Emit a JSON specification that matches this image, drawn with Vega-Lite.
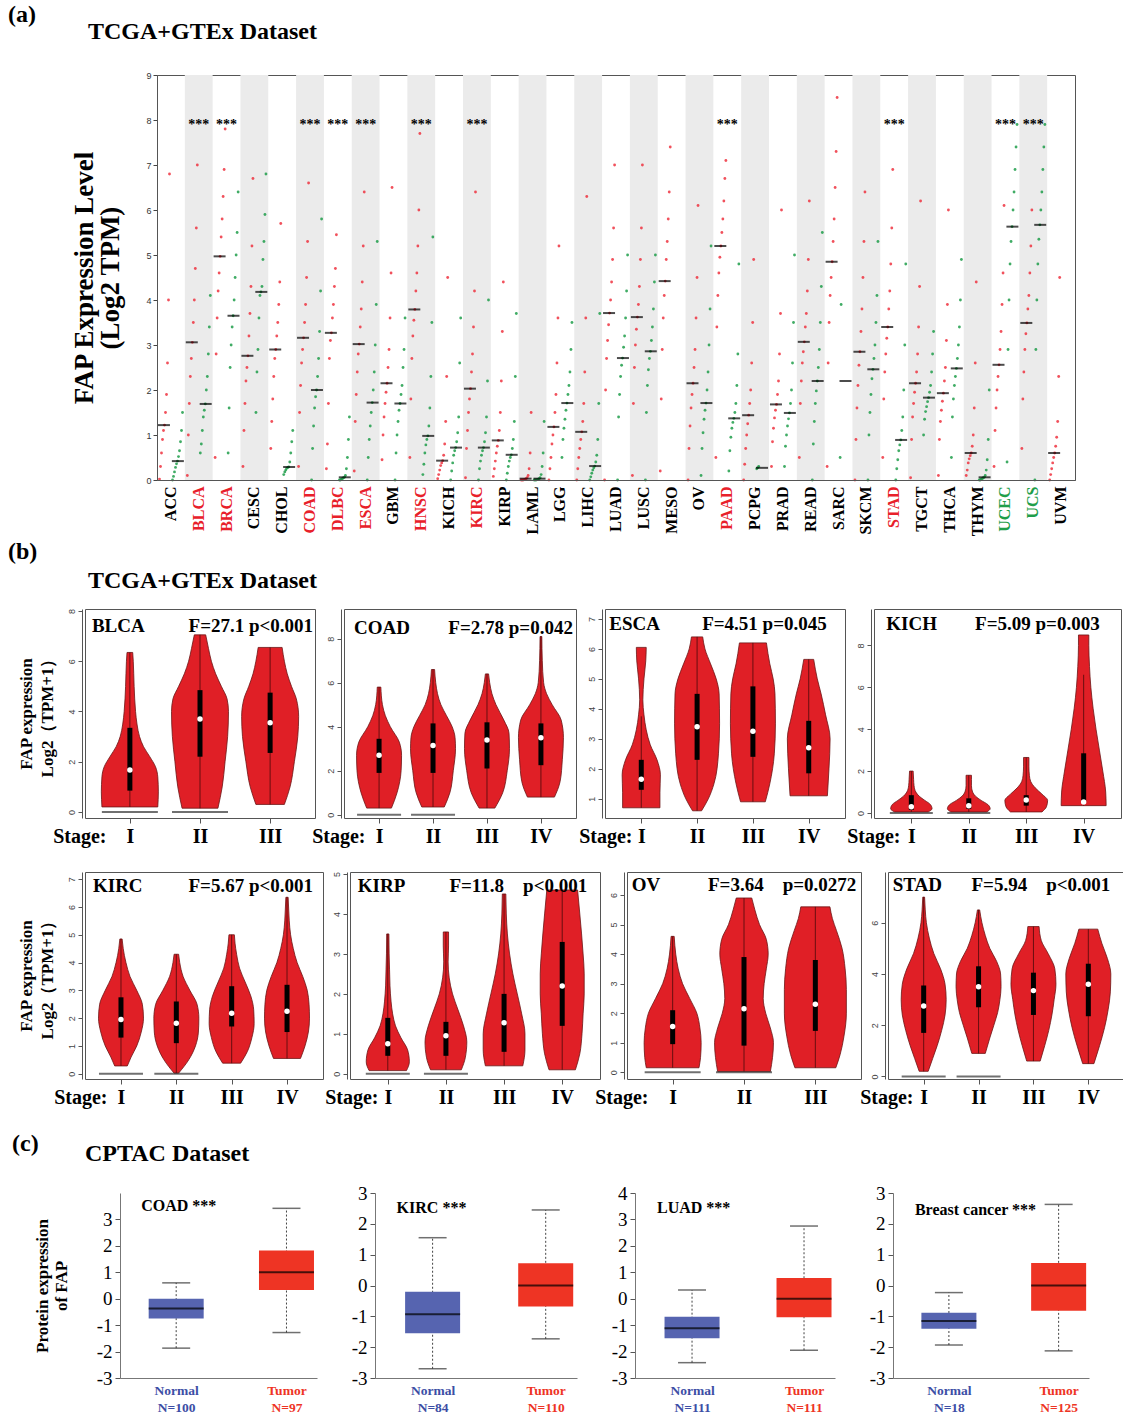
{
"$schema":"https://vega.github.io/schema/vega-lite/v6.json",
"padding":{"left":8,"top":2,"right":0,"bottom":0},
"background":"white",
"spacing":3,
"config":{"view":{"stroke":"#555","strokeWidth":1},"font":"Liberation Serif","title":{"font":"Liberation Serif","fontSize":24,"fontWeight":"bold","anchor":"start","frame":"group","color":"black"},"axis":{"grid":false}},
"datasets":{
"cats":[{"c":"ACC"},{"c":"BLCA"},{"c":"BRCA"},{"c":"CESC"},{"c":"CHOL"},{"c":"COAD"},{"c":"DLBC"},{"c":"ESCA"},{"c":"GBM"},{"c":"HNSC"},{"c":"KICH"},{"c":"KIRC"},{"c":"KIRP"},{"c":"LAML"},{"c":"LGG"},{"c":"LIHC"},{"c":"LUAD"},{"c":"LUSC"},{"c":"MESO"},{"c":"OV"},{"c":"PAAD"},{"c":"PCPG"},{"c":"PRAD"},{"c":"READ"},{"c":"SARC"},{"c":"SKCM"},{"c":"STAD"},{"c":"TGCT"},{"c":"THCA"},{"c":"THYM"},{"c":"UCEC"},{"c":"UCS"},{"c":"UVM"}],
"stars":[{"c":"BLCA"},{"c":"BRCA"},{"c":"COAD"},{"c":"DLBC"},{"c":"ESCA"},{"c":"HNSC"},{"c":"KIRC"},{"c":"PAAD"},{"c":"STAD"},{"c":"UCEC"},{"c":"UCS"}],
"pts":[
{"c":"ACC","g":"T","v":0.02},{"c":"ACC","g":"T","v":0.3},{"c":"ACC","g":"T","v":0.6},{"c":"ACC","g":"T","v":0.9},{"c":"ACC","g":"T","v":1.1},{"c":"ACC","g":"T","v":1.22},{"c":"ACC","g":"T","v":1.5},{"c":"ACC","g":"T","v":1.9},{"c":"ACC","g":"T","v":2.6},{"c":"ACC","g":"T","v":4.0},{"c":"ACC","g":"T","v":6.8},
{"c":"ACC","g":"N","v":0},{"c":"ACC","g":"N","v":0.08},{"c":"ACC","g":"N","v":0.18},{"c":"ACC","g":"N","v":0.28},{"c":"ACC","g":"N","v":0.36},{"c":"ACC","g":"N","v":0.42},{"c":"ACC","g":"N","v":0.52},{"c":"ACC","g":"N","v":0.65},{"c":"ACC","g":"N","v":0.85},{"c":"ACC","g":"N","v":1.1},{"c":"ACC","g":"N","v":1.5},
{"c":"BLCA","g":"T","v":0.1},{"c":"BLCA","g":"T","v":1.0},{"c":"BLCA","g":"T","v":1.7},{"c":"BLCA","g":"T","v":2.3},{"c":"BLCA","g":"T","v":2.7},{"c":"BLCA","g":"T","v":3.06},{"c":"BLCA","g":"T","v":3.5},{"c":"BLCA","g":"T","v":4.0},{"c":"BLCA","g":"T","v":4.7},{"c":"BLCA","g":"T","v":5.6},{"c":"BLCA","g":"T","v":7.0},
{"c":"BLCA","g":"N","v":0.6},{"c":"BLCA","g":"N","v":0.8},{"c":"BLCA","g":"N","v":1.1},{"c":"BLCA","g":"N","v":1.4},{"c":"BLCA","g":"N","v":1.55},{"c":"BLCA","g":"N","v":1.69},{"c":"BLCA","g":"N","v":2.0},{"c":"BLCA","g":"N","v":2.3},{"c":"BLCA","g":"N","v":2.8},{"c":"BLCA","g":"N","v":3.4},{"c":"BLCA","g":"N","v":4.1},
{"c":"BRCA","g":"T","v":0.5},{"c":"BRCA","g":"T","v":2.8},{"c":"BRCA","g":"T","v":3.6},{"c":"BRCA","g":"T","v":4.2},{"c":"BRCA","g":"T","v":4.6},{"c":"BRCA","g":"T","v":4.97},{"c":"BRCA","g":"T","v":5.4},{"c":"BRCA","g":"T","v":5.8},{"c":"BRCA","g":"T","v":6.3},{"c":"BRCA","g":"T","v":6.9},{"c":"BRCA","g":"T","v":7.8},
{"c":"BRCA","g":"N","v":0.6},{"c":"BRCA","g":"N","v":1.6},{"c":"BRCA","g":"N","v":2.5},{"c":"BRCA","g":"N","v":3.0},{"c":"BRCA","g":"N","v":3.4},{"c":"BRCA","g":"N","v":3.65},{"c":"BRCA","g":"N","v":4.0},{"c":"BRCA","g":"N","v":4.5},{"c":"BRCA","g":"N","v":5.0},{"c":"BRCA","g":"N","v":5.5},{"c":"BRCA","g":"N","v":6.4},
{"c":"CESC","g":"T","v":0.3},{"c":"CESC","g":"T","v":1.1},{"c":"CESC","g":"T","v":1.7},{"c":"CESC","g":"T","v":2.2},{"c":"CESC","g":"T","v":2.5},{"c":"CESC","g":"T","v":2.76},{"c":"CESC","g":"T","v":3.2},{"c":"CESC","g":"T","v":3.7},{"c":"CESC","g":"T","v":4.3},{"c":"CESC","g":"T","v":5.2},{"c":"CESC","g":"T","v":6.7},
{"c":"CESC","g":"N","v":1.5},{"c":"CESC","g":"N","v":2.4},{"c":"CESC","g":"N","v":2.9},{"c":"CESC","g":"N","v":3.6},{"c":"CESC","g":"N","v":4.1},{"c":"CESC","g":"N","v":4.18},{"c":"CESC","g":"N","v":4.3},{"c":"CESC","g":"N","v":4.9},{"c":"CESC","g":"N","v":5.3},{"c":"CESC","g":"N","v":5.9},{"c":"CESC","g":"N","v":6.8},
{"c":"CHOL","g":"T","v":0.7},{"c":"CHOL","g":"T","v":1.3},{"c":"CHOL","g":"T","v":1.8},{"c":"CHOL","g":"T","v":2.3},{"c":"CHOL","g":"T","v":2.7},{"c":"CHOL","g":"T","v":2.9},{"c":"CHOL","g":"T","v":3.2},{"c":"CHOL","g":"T","v":3.5},{"c":"CHOL","g":"T","v":3.9},{"c":"CHOL","g":"T","v":4.4},{"c":"CHOL","g":"T","v":5.7},
{"c":"CHOL","g":"N","v":0.12},{"c":"CHOL","g":"N","v":0.18},{"c":"CHOL","g":"N","v":0.22},{"c":"CHOL","g":"N","v":0.26},{"c":"CHOL","g":"N","v":0.28},{"c":"CHOL","g":"N","v":0.29},{"c":"CHOL","g":"N","v":0.4},{"c":"CHOL","g":"N","v":0.6},{"c":"CHOL","g":"N","v":0.85},{"c":"CHOL","g":"N","v":1.1},
{"c":"COAD","g":"T","v":0.3},{"c":"COAD","g":"T","v":1.5},{"c":"COAD","g":"T","v":2.1},{"c":"COAD","g":"T","v":2.6},{"c":"COAD","g":"T","v":2.9},{"c":"COAD","g":"T","v":3.16},{"c":"COAD","g":"T","v":3.5},{"c":"COAD","g":"T","v":3.9},{"c":"COAD","g":"T","v":4.5},{"c":"COAD","g":"T","v":5.3},{"c":"COAD","g":"T","v":6.6},
{"c":"COAD","g":"N","v":0},{"c":"COAD","g":"N","v":0.7},{"c":"COAD","g":"N","v":1.2},{"c":"COAD","g":"N","v":1.6},{"c":"COAD","g":"N","v":1.85},{"c":"COAD","g":"N","v":2.0},{"c":"COAD","g":"N","v":2.3},{"c":"COAD","g":"N","v":2.7},{"c":"COAD","g":"N","v":3.3},{"c":"COAD","g":"N","v":4.2},{"c":"COAD","g":"N","v":5.8},
{"c":"DLBC","g":"T","v":0.25},{"c":"DLBC","g":"T","v":0.8},{"c":"DLBC","g":"T","v":1.7},{"c":"DLBC","g":"T","v":2.7},{"c":"DLBC","g":"T","v":3.1},{"c":"DLBC","g":"T","v":3.27},{"c":"DLBC","g":"T","v":3.6},{"c":"DLBC","g":"T","v":3.9},{"c":"DLBC","g":"T","v":4.3},{"c":"DLBC","g":"T","v":4.7},{"c":"DLBC","g":"T","v":5.45},
{"c":"DLBC","g":"N","v":0},{"c":"DLBC","g":"N","v":0},{"c":"DLBC","g":"N","v":0.02},{"c":"DLBC","g":"N","v":0.03},{"c":"DLBC","g":"N","v":0.05},{"c":"DLBC","g":"N","v":0.06},{"c":"DLBC","g":"N","v":0.1},{"c":"DLBC","g":"N","v":0.25},{"c":"DLBC","g":"N","v":0.5},{"c":"DLBC","g":"N","v":0.9},{"c":"DLBC","g":"N","v":1.4},
{"c":"ESCA","g":"T","v":0.2},{"c":"ESCA","g":"T","v":1.3},{"c":"ESCA","g":"T","v":1.9},{"c":"ESCA","g":"T","v":2.4},{"c":"ESCA","g":"T","v":2.8},{"c":"ESCA","g":"T","v":3.02},{"c":"ESCA","g":"T","v":3.4},{"c":"ESCA","g":"T","v":3.8},{"c":"ESCA","g":"T","v":4.4},{"c":"ESCA","g":"T","v":5.2},{"c":"ESCA","g":"T","v":6.4},
{"c":"ESCA","g":"N","v":0},{"c":"ESCA","g":"N","v":0.5},{"c":"ESCA","g":"N","v":0.9},{"c":"ESCA","g":"N","v":1.2},{"c":"ESCA","g":"N","v":1.5},{"c":"ESCA","g":"N","v":1.72},{"c":"ESCA","g":"N","v":2.0},{"c":"ESCA","g":"N","v":2.4},{"c":"ESCA","g":"N","v":3.0},{"c":"ESCA","g":"N","v":3.9},{"c":"ESCA","g":"N","v":5.3},
{"c":"GBM","g":"T","v":0.45},{"c":"GBM","g":"T","v":1.0},{"c":"GBM","g":"T","v":1.4},{"c":"GBM","g":"T","v":1.7},{"c":"GBM","g":"T","v":1.95},{"c":"GBM","g":"T","v":2.15},{"c":"GBM","g":"T","v":2.5},{"c":"GBM","g":"T","v":2.9},{"c":"GBM","g":"T","v":3.6},{"c":"GBM","g":"T","v":4.6},{"c":"GBM","g":"T","v":6.5},
{"c":"GBM","g":"N","v":0},{"c":"GBM","g":"N","v":0.6},{"c":"GBM","g":"N","v":1.0},{"c":"GBM","g":"N","v":1.3},{"c":"GBM","g":"N","v":1.55},{"c":"GBM","g":"N","v":1.7},{"c":"GBM","g":"N","v":1.9},{"c":"GBM","g":"N","v":2.1},{"c":"GBM","g":"N","v":2.5},{"c":"GBM","g":"N","v":2.9},{"c":"GBM","g":"N","v":3.6},
{"c":"HNSC","g":"T","v":0.5},{"c":"HNSC","g":"T","v":1.8},{"c":"HNSC","g":"T","v":2.7},{"c":"HNSC","g":"T","v":3.2},{"c":"HNSC","g":"T","v":3.55},{"c":"HNSC","g":"T","v":3.79},{"c":"HNSC","g":"T","v":4.2},{"c":"HNSC","g":"T","v":4.6},{"c":"HNSC","g":"T","v":5.2},{"c":"HNSC","g":"T","v":6.0},{"c":"HNSC","g":"T","v":7.7},
{"c":"HNSC","g":"N","v":0.12},{"c":"HNSC","g":"N","v":0.35},{"c":"HNSC","g":"N","v":0.6},{"c":"HNSC","g":"N","v":0.78},{"c":"HNSC","g":"N","v":0.9},{"c":"HNSC","g":"N","v":0.98},{"c":"HNSC","g":"N","v":1.2},{"c":"HNSC","g":"N","v":1.6},{"c":"HNSC","g":"N","v":2.3},{"c":"HNSC","g":"N","v":3.5},{"c":"HNSC","g":"N","v":5.4},
{"c":"KICH","g":"T","v":0.03},{"c":"KICH","g":"T","v":0.12},{"c":"KICH","g":"T","v":0.22},{"c":"KICH","g":"T","v":0.32},{"c":"KICH","g":"T","v":0.38},{"c":"KICH","g":"T","v":0.43},{"c":"KICH","g":"T","v":0.55},{"c":"KICH","g":"T","v":0.8},{"c":"KICH","g":"T","v":1.3},{"c":"KICH","g":"T","v":2.3},{"c":"KICH","g":"T","v":4.5},
{"c":"KICH","g":"N","v":0},{"c":"KICH","g":"N","v":0.2},{"c":"KICH","g":"N","v":0.38},{"c":"KICH","g":"N","v":0.55},{"c":"KICH","g":"N","v":0.65},{"c":"KICH","g":"N","v":0.72},{"c":"KICH","g":"N","v":0.85},{"c":"KICH","g":"N","v":1.05},{"c":"KICH","g":"N","v":1.4},{"c":"KICH","g":"N","v":2.6},{"c":"KICH","g":"N","v":3.6},
{"c":"KIRC","g":"T","v":0.05},{"c":"KIRC","g":"T","v":0.7},{"c":"KIRC","g":"T","v":1.1},{"c":"KIRC","g":"T","v":1.5},{"c":"KIRC","g":"T","v":1.8},{"c":"KIRC","g":"T","v":2.03},{"c":"KIRC","g":"T","v":2.4},{"c":"KIRC","g":"T","v":2.8},{"c":"KIRC","g":"T","v":3.4},{"c":"KIRC","g":"T","v":4.2},{"c":"KIRC","g":"T","v":6.4},
{"c":"KIRC","g":"N","v":0},{"c":"KIRC","g":"N","v":0.25},{"c":"KIRC","g":"N","v":0.42},{"c":"KIRC","g":"N","v":0.55},{"c":"KIRC","g":"N","v":0.65},{"c":"KIRC","g":"N","v":0.72},{"c":"KIRC","g":"N","v":0.85},{"c":"KIRC","g":"N","v":1.05},{"c":"KIRC","g":"N","v":1.4},{"c":"KIRC","g":"N","v":2.2},{"c":"KIRC","g":"N","v":4.0},
{"c":"KIRP","g":"T","v":0.08},{"c":"KIRP","g":"T","v":0.25},{"c":"KIRP","g":"T","v":0.42},{"c":"KIRP","g":"T","v":0.6},{"c":"KIRP","g":"T","v":0.75},{"c":"KIRP","g":"T","v":0.88},{"c":"KIRP","g":"T","v":1.1},{"c":"KIRP","g":"T","v":1.5},{"c":"KIRP","g":"T","v":2.2},{"c":"KIRP","g":"T","v":3.3},{"c":"KIRP","g":"T","v":4.4},
{"c":"KIRP","g":"N","v":0},{"c":"KIRP","g":"N","v":0.15},{"c":"KIRP","g":"N","v":0.3},{"c":"KIRP","g":"N","v":0.42},{"c":"KIRP","g":"N","v":0.5},{"c":"KIRP","g":"N","v":0.56},{"c":"KIRP","g":"N","v":0.7},{"c":"KIRP","g":"N","v":0.9},{"c":"KIRP","g":"N","v":1.3},{"c":"KIRP","g":"N","v":2.3},{"c":"KIRP","g":"N","v":3.7},
{"c":"LAML","g":"T","v":0},{"c":"LAML","g":"T","v":0},{"c":"LAML","g":"T","v":0},{"c":"LAML","g":"T","v":0.01},{"c":"LAML","g":"T","v":0.02},{"c":"LAML","g":"T","v":0.03},{"c":"LAML","g":"T","v":0.05},{"c":"LAML","g":"T","v":0.1},{"c":"LAML","g":"T","v":0.25},{"c":"LAML","g":"T","v":0.6},{"c":"LAML","g":"T","v":1.5},
{"c":"LAML","g":"N","v":0},{"c":"LAML","g":"N","v":0},{"c":"LAML","g":"N","v":0},{"c":"LAML","g":"N","v":0.01},{"c":"LAML","g":"N","v":0.02},{"c":"LAML","g":"N","v":0.03},{"c":"LAML","g":"N","v":0.05},{"c":"LAML","g":"N","v":0.12},{"c":"LAML","g":"N","v":0.3},{"c":"LAML","g":"N","v":0.6},{"c":"LAML","g":"N","v":1.3},
{"c":"LGG","g":"T","v":0},{"c":"LGG","g":"T","v":0.25},{"c":"LGG","g":"T","v":0.5},{"c":"LGG","g":"T","v":0.8},{"c":"LGG","g":"T","v":1.0},{"c":"LGG","g":"T","v":1.18},{"c":"LGG","g":"T","v":1.5},{"c":"LGG","g":"T","v":1.9},{"c":"LGG","g":"T","v":2.6},{"c":"LGG","g":"T","v":3.6},{"c":"LGG","g":"T","v":5.2},
{"c":"LGG","g":"N","v":0.5},{"c":"LGG","g":"N","v":0.9},{"c":"LGG","g":"N","v":1.15},{"c":"LGG","g":"N","v":1.35},{"c":"LGG","g":"N","v":1.55},{"c":"LGG","g":"N","v":1.71},{"c":"LGG","g":"N","v":1.9},{"c":"LGG","g":"N","v":2.1},{"c":"LGG","g":"N","v":2.4},{"c":"LGG","g":"N","v":2.9},{"c":"LGG","g":"N","v":3.5},
{"c":"LIHC","g":"T","v":0},{"c":"LIHC","g":"T","v":0.25},{"c":"LIHC","g":"T","v":0.5},{"c":"LIHC","g":"T","v":0.7},{"c":"LIHC","g":"T","v":0.9},{"c":"LIHC","g":"T","v":1.07},{"c":"LIHC","g":"T","v":1.3},{"c":"LIHC","g":"T","v":1.7},{"c":"LIHC","g":"T","v":2.4},{"c":"LIHC","g":"T","v":3.6},{"c":"LIHC","g":"T","v":6.3},
{"c":"LIHC","g":"N","v":0},{"c":"LIHC","g":"N","v":0.07},{"c":"LIHC","g":"N","v":0.15},{"c":"LIHC","g":"N","v":0.22},{"c":"LIHC","g":"N","v":0.27},{"c":"LIHC","g":"N","v":0.31},{"c":"LIHC","g":"N","v":0.4},{"c":"LIHC","g":"N","v":0.55},{"c":"LIHC","g":"N","v":0.9},{"c":"LIHC","g":"N","v":1.7},{"c":"LIHC","g":"N","v":3.7},
{"c":"LUAD","g":"T","v":0},{"c":"LUAD","g":"T","v":2.0},{"c":"LUAD","g":"T","v":2.7},{"c":"LUAD","g":"T","v":3.1},{"c":"LUAD","g":"T","v":3.45},{"c":"LUAD","g":"T","v":3.71},{"c":"LUAD","g":"T","v":4.0},{"c":"LUAD","g":"T","v":4.4},{"c":"LUAD","g":"T","v":4.9},{"c":"LUAD","g":"T","v":5.6},{"c":"LUAD","g":"T","v":7.0},
{"c":"LUAD","g":"N","v":0},{"c":"LUAD","g":"N","v":1.4},{"c":"LUAD","g":"N","v":1.9},{"c":"LUAD","g":"N","v":2.3},{"c":"LUAD","g":"N","v":2.55},{"c":"LUAD","g":"N","v":2.71},{"c":"LUAD","g":"N","v":2.95},{"c":"LUAD","g":"N","v":3.2},{"c":"LUAD","g":"N","v":3.6},{"c":"LUAD","g":"N","v":4.2},{"c":"LUAD","g":"N","v":5.0},
{"c":"LUSC","g":"T","v":0.1},{"c":"LUSC","g":"T","v":1.7},{"c":"LUSC","g":"T","v":2.5},{"c":"LUSC","g":"T","v":3.0},{"c":"LUSC","g":"T","v":3.35},{"c":"LUSC","g":"T","v":3.62},{"c":"LUSC","g":"T","v":3.9},{"c":"LUSC","g":"T","v":4.3},{"c":"LUSC","g":"T","v":4.9},{"c":"LUSC","g":"T","v":5.6},{"c":"LUSC","g":"T","v":7.0},
{"c":"LUSC","g":"N","v":0},{"c":"LUSC","g":"N","v":1.5},{"c":"LUSC","g":"N","v":2.1},{"c":"LUSC","g":"N","v":2.45},{"c":"LUSC","g":"N","v":2.7},{"c":"LUSC","g":"N","v":2.86},{"c":"LUSC","g":"N","v":3.1},{"c":"LUSC","g":"N","v":3.4},{"c":"LUSC","g":"N","v":3.8},{"c":"LUSC","g":"N","v":4.4},{"c":"LUSC","g":"N","v":5.0},
{"c":"MESO","g":"T","v":0.2},{"c":"MESO","g":"T","v":1.8},{"c":"MESO","g":"T","v":2.9},{"c":"MESO","g":"T","v":3.6},{"c":"MESO","g":"T","v":4.1},{"c":"MESO","g":"T","v":4.42},{"c":"MESO","g":"T","v":4.9},{"c":"MESO","g":"T","v":5.3},{"c":"MESO","g":"T","v":5.8},{"c":"MESO","g":"T","v":6.4},{"c":"MESO","g":"T","v":7.4},
{"c":"OV","g":"T","v":0},{"c":"OV","g":"T","v":0.7},{"c":"OV","g":"T","v":1.2},{"c":"OV","g":"T","v":1.6},{"c":"OV","g":"T","v":1.9},{"c":"OV","g":"T","v":2.15},{"c":"OV","g":"T","v":2.5},{"c":"OV","g":"T","v":2.9},{"c":"OV","g":"T","v":3.6},{"c":"OV","g":"T","v":4.5},{"c":"OV","g":"T","v":6.1},
{"c":"OV","g":"N","v":0.1},{"c":"OV","g":"N","v":0.7},{"c":"OV","g":"N","v":1.05},{"c":"OV","g":"N","v":1.35},{"c":"OV","g":"N","v":1.55},{"c":"OV","g":"N","v":1.71},{"c":"OV","g":"N","v":2.0},{"c":"OV","g":"N","v":2.4},{"c":"OV","g":"N","v":3.0},{"c":"OV","g":"N","v":3.8},{"c":"OV","g":"N","v":5.2},
{"c":"PAAD","g":"T","v":0.5},{"c":"PAAD","g":"T","v":3.4},{"c":"PAAD","g":"T","v":4.1},{"c":"PAAD","g":"T","v":4.6},{"c":"PAAD","g":"T","v":4.95},{"c":"PAAD","g":"T","v":5.2},{"c":"PAAD","g":"T","v":5.5},{"c":"PAAD","g":"T","v":5.8},{"c":"PAAD","g":"T","v":6.2},{"c":"PAAD","g":"T","v":6.7},{"c":"PAAD","g":"T","v":7.1},
{"c":"PAAD","g":"N","v":0.2},{"c":"PAAD","g":"N","v":0.65},{"c":"PAAD","g":"N","v":0.95},{"c":"PAAD","g":"N","v":1.15},{"c":"PAAD","g":"N","v":1.28},{"c":"PAAD","g":"N","v":1.37},{"c":"PAAD","g":"N","v":1.5},{"c":"PAAD","g":"N","v":1.7},{"c":"PAAD","g":"N","v":2.1},{"c":"PAAD","g":"N","v":2.8},{"c":"PAAD","g":"N","v":4.8},
{"c":"PCPG","g":"T","v":0},{"c":"PCPG","g":"T","v":0.35},{"c":"PCPG","g":"T","v":0.7},{"c":"PCPG","g":"T","v":1.0},{"c":"PCPG","g":"T","v":1.25},{"c":"PCPG","g":"T","v":1.44},{"c":"PCPG","g":"T","v":1.7},{"c":"PCPG","g":"T","v":2.0},{"c":"PCPG","g":"T","v":2.6},{"c":"PCPG","g":"T","v":3.5},{"c":"PCPG","g":"T","v":4.9},
{"c":"PCPG","g":"N","v":0.25},{"c":"PCPG","g":"N","v":0.27},{"c":"PCPG","g":"N","v":0.3},
{"c":"PRAD","g":"T","v":0.3},{"c":"PRAD","g":"T","v":0.85},{"c":"PRAD","g":"T","v":1.15},{"c":"PRAD","g":"T","v":1.38},{"c":"PRAD","g":"T","v":1.55},{"c":"PRAD","g":"T","v":1.68},{"c":"PRAD","g":"T","v":1.9},{"c":"PRAD","g":"T","v":2.2},{"c":"PRAD","g":"T","v":2.8},{"c":"PRAD","g":"T","v":3.7},{"c":"PRAD","g":"T","v":6.0},
{"c":"PRAD","g":"N","v":0.3},{"c":"PRAD","g":"N","v":0.75},{"c":"PRAD","g":"N","v":1.0},{"c":"PRAD","g":"N","v":1.2},{"c":"PRAD","g":"N","v":1.36},{"c":"PRAD","g":"N","v":1.49},{"c":"PRAD","g":"N","v":1.7},{"c":"PRAD","g":"N","v":2.0},{"c":"PRAD","g":"N","v":2.6},{"c":"PRAD","g":"N","v":3.5},{"c":"PRAD","g":"N","v":5.0},
{"c":"READ","g":"T","v":0.5},{"c":"READ","g":"T","v":1.7},{"c":"READ","g":"T","v":2.2},{"c":"READ","g":"T","v":2.6},{"c":"READ","g":"T","v":2.85},{"c":"READ","g":"T","v":3.07},{"c":"READ","g":"T","v":3.4},{"c":"READ","g":"T","v":3.7},{"c":"READ","g":"T","v":4.2},{"c":"READ","g":"T","v":4.9},{"c":"READ","g":"T","v":6.2},
{"c":"READ","g":"N","v":0},{"c":"READ","g":"N","v":0.8},{"c":"READ","g":"N","v":1.3},{"c":"READ","g":"N","v":1.7},{"c":"READ","g":"N","v":1.98},{"c":"READ","g":"N","v":2.2},{"c":"READ","g":"N","v":2.5},{"c":"READ","g":"N","v":2.9},{"c":"READ","g":"N","v":3.5},{"c":"READ","g":"N","v":4.3},{"c":"READ","g":"N","v":5.5},
{"c":"SARC","g":"T","v":0.3},{"c":"SARC","g":"T","v":2.6},{"c":"SARC","g":"T","v":3.5},{"c":"SARC","g":"T","v":4.1},{"c":"SARC","g":"T","v":4.5},{"c":"SARC","g":"T","v":4.85},{"c":"SARC","g":"T","v":5.3},{"c":"SARC","g":"T","v":5.8},{"c":"SARC","g":"T","v":6.5},{"c":"SARC","g":"T","v":7.3},{"c":"SARC","g":"T","v":8.5},
{"c":"SARC","g":"N","v":0.5},{"c":"SARC","g":"N","v":3.9},
{"c":"SKCM","g":"T","v":0},{"c":"SKCM","g":"T","v":0.9},{"c":"SKCM","g":"T","v":1.6},{"c":"SKCM","g":"T","v":2.1},{"c":"SKCM","g":"T","v":2.55},{"c":"SKCM","g":"T","v":2.85},{"c":"SKCM","g":"T","v":3.3},{"c":"SKCM","g":"T","v":3.8},{"c":"SKCM","g":"T","v":4.5},{"c":"SKCM","g":"T","v":5.3},{"c":"SKCM","g":"T","v":6.4},
{"c":"SKCM","g":"N","v":0},{"c":"SKCM","g":"N","v":1.0},{"c":"SKCM","g":"N","v":1.5},{"c":"SKCM","g":"N","v":1.9},{"c":"SKCM","g":"N","v":2.25},{"c":"SKCM","g":"N","v":2.46},{"c":"SKCM","g":"N","v":2.7},{"c":"SKCM","g":"N","v":3.0},{"c":"SKCM","g":"N","v":3.5},{"c":"SKCM","g":"N","v":4.1},{"c":"SKCM","g":"N","v":5.3},
{"c":"STAD","g":"T","v":0.5},{"c":"STAD","g":"T","v":1.8},{"c":"STAD","g":"T","v":2.4},{"c":"STAD","g":"T","v":2.8},{"c":"STAD","g":"T","v":3.15},{"c":"STAD","g":"T","v":3.4},{"c":"STAD","g":"T","v":3.8},{"c":"STAD","g":"T","v":4.2},{"c":"STAD","g":"T","v":4.8},{"c":"STAD","g":"T","v":5.6},{"c":"STAD","g":"T","v":6.9},
{"c":"STAD","g":"N","v":0},{"c":"STAD","g":"N","v":0.25},{"c":"STAD","g":"N","v":0.45},{"c":"STAD","g":"N","v":0.65},{"c":"STAD","g":"N","v":0.78},{"c":"STAD","g":"N","v":0.89},{"c":"STAD","g":"N","v":1.1},{"c":"STAD","g":"N","v":1.4},{"c":"STAD","g":"N","v":2.0},{"c":"STAD","g":"N","v":3.0},{"c":"STAD","g":"N","v":4.8},
{"c":"TGCT","g":"T","v":0.05},{"c":"TGCT","g":"T","v":0.9},{"c":"TGCT","g":"T","v":1.4},{"c":"TGCT","g":"T","v":1.7},{"c":"TGCT","g":"T","v":1.95},{"c":"TGCT","g":"T","v":2.15},{"c":"TGCT","g":"T","v":2.4},{"c":"TGCT","g":"T","v":2.8},{"c":"TGCT","g":"T","v":3.4},{"c":"TGCT","g":"T","v":4.3},{"c":"TGCT","g":"T","v":6.2},
{"c":"TGCT","g":"N","v":1.0},{"c":"TGCT","g":"N","v":1.35},{"c":"TGCT","g":"N","v":1.52},{"c":"TGCT","g":"N","v":1.63},{"c":"TGCT","g":"N","v":1.74},{"c":"TGCT","g":"N","v":1.83},{"c":"TGCT","g":"N","v":1.95},{"c":"TGCT","g":"N","v":2.1},{"c":"TGCT","g":"N","v":2.4},{"c":"TGCT","g":"N","v":2.8},{"c":"TGCT","g":"N","v":3.3},
{"c":"THCA","g":"T","v":0.1},{"c":"THCA","g":"T","v":0.9},{"c":"THCA","g":"T","v":1.3},{"c":"THCA","g":"T","v":1.55},{"c":"THCA","g":"T","v":1.75},{"c":"THCA","g":"T","v":1.93},{"c":"THCA","g":"T","v":2.2},{"c":"THCA","g":"T","v":2.5},{"c":"THCA","g":"T","v":3.1},{"c":"THCA","g":"T","v":3.9},{"c":"THCA","g":"T","v":6.0},
{"c":"THCA","g":"N","v":0.5},{"c":"THCA","g":"N","v":1.4},{"c":"THCA","g":"N","v":1.8},{"c":"THCA","g":"N","v":2.1},{"c":"THCA","g":"N","v":2.3},{"c":"THCA","g":"N","v":2.48},{"c":"THCA","g":"N","v":2.7},{"c":"THCA","g":"N","v":3.0},{"c":"THCA","g":"N","v":3.4},{"c":"THCA","g":"N","v":4.0},{"c":"THCA","g":"N","v":4.9},
{"c":"THYM","g":"T","v":0.1},{"c":"THYM","g":"T","v":0.22},{"c":"THYM","g":"T","v":0.38},{"c":"THYM","g":"T","v":0.47},{"c":"THYM","g":"T","v":0.54},{"c":"THYM","g":"T","v":0.6},{"c":"THYM","g":"T","v":0.75},{"c":"THYM","g":"T","v":1.0},{"c":"THYM","g":"T","v":1.6},{"c":"THYM","g":"T","v":2.6},{"c":"THYM","g":"T","v":4.4},
{"c":"THYM","g":"N","v":0},{"c":"THYM","g":"N","v":0},{"c":"THYM","g":"N","v":0.02},{"c":"THYM","g":"N","v":0.03},{"c":"THYM","g":"N","v":0.05},{"c":"THYM","g":"N","v":0.06},{"c":"THYM","g":"N","v":0.1},{"c":"THYM","g":"N","v":0.22},{"c":"THYM","g":"N","v":0.45},{"c":"THYM","g":"N","v":0.9},{"c":"THYM","g":"N","v":2.0},
{"c":"UCEC","g":"T","v":0.3},{"c":"UCEC","g":"T","v":1.1},{"c":"UCEC","g":"T","v":1.6},{"c":"UCEC","g":"T","v":2.0},{"c":"UCEC","g":"T","v":2.3},{"c":"UCEC","g":"T","v":2.56},{"c":"UCEC","g":"T","v":2.9},{"c":"UCEC","g":"T","v":3.3},{"c":"UCEC","g":"T","v":3.9},{"c":"UCEC","g":"T","v":4.6},{"c":"UCEC","g":"T","v":6.1},
{"c":"UCEC","g":"N","v":0.4},{"c":"UCEC","g":"N","v":2.9},{"c":"UCEC","g":"N","v":4.0},{"c":"UCEC","g":"N","v":4.8},{"c":"UCEC","g":"N","v":5.3},{"c":"UCEC","g":"N","v":5.63},{"c":"UCEC","g":"N","v":6.0},{"c":"UCEC","g":"N","v":6.4},{"c":"UCEC","g":"N","v":6.9},{"c":"UCEC","g":"N","v":7.4},{"c":"UCEC","g":"N","v":7.9},
{"c":"UCS","g":"T","v":0.7},{"c":"UCS","g":"T","v":1.8},{"c":"UCS","g":"T","v":2.4},{"c":"UCS","g":"T","v":2.9},{"c":"UCS","g":"T","v":3.25},{"c":"UCS","g":"T","v":3.49},{"c":"UCS","g":"T","v":3.8},{"c":"UCS","g":"T","v":4.1},{"c":"UCS","g":"T","v":4.6},{"c":"UCS","g":"T","v":5.2},{"c":"UCS","g":"T","v":6.0},
{"c":"UCS","g":"N","v":0},{"c":"UCS","g":"N","v":2.9},{"c":"UCS","g":"N","v":4.0},{"c":"UCS","g":"N","v":4.8},{"c":"UCS","g":"N","v":5.35},{"c":"UCS","g":"N","v":5.67},{"c":"UCS","g":"N","v":6.0},{"c":"UCS","g":"N","v":6.4},{"c":"UCS","g":"N","v":6.9},{"c":"UCS","g":"N","v":7.4},{"c":"UCS","g":"N","v":7.9},
{"c":"UVM","g":"T","v":0},{"c":"UVM","g":"T","v":0.12},{"c":"UVM","g":"T","v":0.25},{"c":"UVM","g":"T","v":0.38},{"c":"UVM","g":"T","v":0.5},{"c":"UVM","g":"T","v":0.6},{"c":"UVM","g":"T","v":0.75},{"c":"UVM","g":"T","v":0.95},{"c":"UVM","g":"T","v":1.3},{"c":"UVM","g":"T","v":2.3},{"c":"UVM","g":"T","v":4.5}
],
"med":[{"c":"ACC","g":"T","m":1.22},{"c":"ACC","g":"N","m":0.42},{"c":"BLCA","g":"T","m":3.06},{"c":"BLCA","g":"N","m":1.69},{"c":"BRCA","g":"T","m":4.97},{"c":"BRCA","g":"N","m":3.65},{"c":"CESC","g":"T","m":2.76},{"c":"CESC","g":"N","m":4.18},{"c":"CHOL","g":"T","m":2.9},{"c":"CHOL","g":"N","m":0.29},{"c":"COAD","g":"T","m":3.16},{"c":"COAD","g":"N","m":2.0},{"c":"DLBC","g":"T","m":3.27},{"c":"DLBC","g":"N","m":0.06},{"c":"ESCA","g":"T","m":3.02},{"c":"ESCA","g":"N","m":1.72},{"c":"GBM","g":"T","m":2.15},{"c":"GBM","g":"N","m":1.7},{"c":"HNSC","g":"T","m":3.79},{"c":"HNSC","g":"N","m":0.98},{"c":"KICH","g":"T","m":0.43},{"c":"KICH","g":"N","m":0.72},{"c":"KIRC","g":"T","m":2.03},{"c":"KIRC","g":"N","m":0.72},{"c":"KIRP","g":"T","m":0.88},{"c":"KIRP","g":"N","m":0.56},{"c":"LAML","g":"T","m":0.03},{"c":"LAML","g":"N","m":0.03},{"c":"LGG","g":"T","m":1.18},{"c":"LGG","g":"N","m":1.71},{"c":"LIHC","g":"T","m":1.07},{"c":"LIHC","g":"N","m":0.31},{"c":"LUAD","g":"T","m":3.71},{"c":"LUAD","g":"N","m":2.71},{"c":"LUSC","g":"T","m":3.62},{"c":"LUSC","g":"N","m":2.86},{"c":"MESO","g":"T","m":4.42},{"c":"OV","g":"T","m":2.15},{"c":"OV","g":"N","m":1.71},{"c":"PAAD","g":"T","m":5.2},{"c":"PAAD","g":"N","m":1.37},{"c":"PCPG","g":"T","m":1.44},{"c":"PCPG","g":"N","m":0.27},{"c":"PRAD","g":"T","m":1.68},{"c":"PRAD","g":"N","m":1.49},{"c":"READ","g":"T","m":3.07},{"c":"READ","g":"N","m":2.2},{"c":"SARC","g":"T","m":4.85},{"c":"SARC","g":"N","m":2.2},{"c":"SKCM","g":"T","m":2.85},{"c":"SKCM","g":"N","m":2.46},{"c":"STAD","g":"T","m":3.4},{"c":"STAD","g":"N","m":0.89},{"c":"TGCT","g":"T","m":2.15},{"c":"TGCT","g":"N","m":1.83},{"c":"THCA","g":"T","m":1.93},{"c":"THCA","g":"N","m":2.48},{"c":"THYM","g":"T","m":0.6},{"c":"THYM","g":"N","m":0.06},{"c":"UCEC","g":"T","m":2.56},{"c":"UCEC","g":"N","m":5.63},{"c":"UCS","g":"T","m":3.49},{"c":"UCS","g":"N","m":5.67},{"c":"UVM","g":"T","m":0.6}],
"vio":[
{"p":"BLCA","s":"I","y":0.2,"w":0.98},{"p":"BLCA","s":"I","y":0.8,"w":1.0},{"p":"BLCA","s":"I","y":1.4,"w":0.98},{"p":"BLCA","s":"I","y":1.8,"w":0.9},{"p":"BLCA","s":"I","y":2.2,"w":0.7},{"p":"BLCA","s":"I","y":2.6,"w":0.48},{"p":"BLCA","s":"I","y":3.0,"w":0.34},{"p":"BLCA","s":"I","y":3.5,"w":0.25},{"p":"BLCA","s":"I","y":4.0,"w":0.2},{"p":"BLCA","s":"I","y":5.0,"w":0.15},{"p":"BLCA","s":"I","y":6.0,"w":0.12},{"p":"BLCA","s":"I","y":6.35,"w":0.1},
{"p":"BLCA","s":"II","y":0.15,"w":0.63},{"p":"BLCA","s":"II","y":1.0,"w":0.78},{"p":"BLCA","s":"II","y":2.0,"w":0.88},{"p":"BLCA","s":"II","y":3.0,"w":0.97},{"p":"BLCA","s":"II","y":4.0,"w":1.0},{"p":"BLCA","s":"II","y":4.5,"w":0.95},{"p":"BLCA","s":"II","y":5.0,"w":0.75},{"p":"BLCA","s":"II","y":5.5,"w":0.55},{"p":"BLCA","s":"II","y":6.0,"w":0.4},{"p":"BLCA","s":"II","y":6.5,"w":0.3},{"p":"BLCA","s":"II","y":7.05,"w":0.2},
{"p":"BLCA","s":"III","y":0.3,"w":0.5},{"p":"BLCA","s":"III","y":1.0,"w":0.7},{"p":"BLCA","s":"III","y":2.0,"w":0.85},{"p":"BLCA","s":"III","y":3.0,"w":0.97},{"p":"BLCA","s":"III","y":3.8,"w":1.0},{"p":"BLCA","s":"III","y":4.5,"w":0.92},{"p":"BLCA","s":"III","y":5.0,"w":0.75},{"p":"BLCA","s":"III","y":5.5,"w":0.6},{"p":"BLCA","s":"III","y":6.0,"w":0.5},{"p":"BLCA","s":"III","y":6.55,"w":0.42},
{"p":"COAD","s":"I","y":0.3,"w":0.55},{"p":"COAD","s":"I","y":1.0,"w":0.8},{"p":"COAD","s":"I","y":2.0,"w":0.98},{"p":"COAD","s":"I","y":2.7,"w":1.0},{"p":"COAD","s":"I","y":3.3,"w":0.9},{"p":"COAD","s":"I","y":4.0,"w":0.5},{"p":"COAD","s":"I","y":4.5,"w":0.28},{"p":"COAD","s":"I","y":5.0,"w":0.15},{"p":"COAD","s":"I","y":5.8,"w":0.08},
{"p":"COAD","s":"II","y":0.35,"w":0.5},{"p":"COAD","s":"II","y":1.0,"w":0.75},{"p":"COAD","s":"II","y":2.0,"w":0.9},{"p":"COAD","s":"II","y":3.0,"w":1.0},{"p":"COAD","s":"II","y":3.5,"w":0.98},{"p":"COAD","s":"II","y":4.0,"w":0.85},{"p":"COAD","s":"II","y":4.5,"w":0.6},{"p":"COAD","s":"II","y":5.0,"w":0.35},{"p":"COAD","s":"II","y":5.5,"w":0.2},{"p":"COAD","s":"II","y":6.0,"w":0.12},{"p":"COAD","s":"II","y":6.6,"w":0.07},
{"p":"COAD","s":"III","y":0.3,"w":0.35},{"p":"COAD","s":"III","y":1.0,"w":0.7},{"p":"COAD","s":"III","y":2.0,"w":0.9},{"p":"COAD","s":"III","y":3.0,"w":1.0},{"p":"COAD","s":"III","y":3.7,"w":0.98},{"p":"COAD","s":"III","y":4.3,"w":0.75},{"p":"COAD","s":"III","y":5.0,"w":0.4},{"p":"COAD","s":"III","y":5.5,"w":0.22},{"p":"COAD","s":"III","y":6.0,"w":0.12},{"p":"COAD","s":"III","y":6.4,"w":0.07},
{"p":"COAD","s":"IV","y":0.8,"w":0.6},{"p":"COAD","s":"IV","y":1.5,"w":0.85},{"p":"COAD","s":"IV","y":2.5,"w":0.95},{"p":"COAD","s":"IV","y":3.5,"w":1.0},{"p":"COAD","s":"IV","y":4.3,"w":0.9},{"p":"COAD","s":"IV","y":5.0,"w":0.5},{"p":"COAD","s":"IV","y":5.5,"w":0.25},{"p":"COAD","s":"IV","y":6.0,"w":0.12},{"p":"COAD","s":"IV","y":7.0,"w":0.06},{"p":"COAD","s":"IV","y":8.1,"w":0.04},
{"p":"ESCA","s":"I","y":0.7,"w":0.83},{"p":"ESCA","s":"I","y":1.2,"w":0.83},{"p":"ESCA","s":"I","y":1.8,"w":0.85},{"p":"ESCA","s":"I","y":2.3,"w":0.7},{"p":"ESCA","s":"I","y":2.8,"w":0.4},{"p":"ESCA","s":"I","y":3.3,"w":0.22},{"p":"ESCA","s":"I","y":3.8,"w":0.12},{"p":"ESCA","s":"I","y":4.3,"w":0.07},{"p":"ESCA","s":"I","y":5.0,"w":0.12},{"p":"ESCA","s":"I","y":5.6,"w":0.2},{"p":"ESCA","s":"I","y":6.05,"w":0.22},
{"p":"ESCA","s":"II","y":0.6,"w":0.2},{"p":"ESCA","s":"II","y":1.0,"w":0.5},{"p":"ESCA","s":"II","y":1.5,"w":0.75},{"p":"ESCA","s":"II","y":2.5,"w":0.95},{"p":"ESCA","s":"II","y":3.5,"w":1.0},{"p":"ESCA","s":"II","y":4.5,"w":0.98},{"p":"ESCA","s":"II","y":5.0,"w":0.85},{"p":"ESCA","s":"II","y":5.5,"w":0.6},{"p":"ESCA","s":"II","y":6.0,"w":0.35},{"p":"ESCA","s":"II","y":6.4,"w":0.25},
{"p":"ESCA","s":"III","y":0.9,"w":0.55},{"p":"ESCA","s":"III","y":1.5,"w":0.75},{"p":"ESCA","s":"III","y":2.5,"w":0.95},{"p":"ESCA","s":"III","y":3.5,"w":1.0},{"p":"ESCA","s":"III","y":4.5,"w":0.98},{"p":"ESCA","s":"III","y":5.0,"w":0.9},{"p":"ESCA","s":"III","y":5.5,"w":0.75},{"p":"ESCA","s":"III","y":6.2,"w":0.6},
{"p":"ESCA","s":"IV","y":1.1,"w":0.83},{"p":"ESCA","s":"IV","y":2.0,"w":0.9},{"p":"ESCA","s":"IV","y":3.0,"w":0.95},{"p":"ESCA","s":"IV","y":3.8,"w":0.75},{"p":"ESCA","s":"IV","y":4.5,"w":0.55},{"p":"ESCA","s":"IV","y":5.0,"w":0.38},{"p":"ESCA","s":"IV","y":5.65,"w":0.22},
{"p":"KICH","s":"I","y":0.05,"w":0.75},{"p":"KICH","s":"I","y":0.2,"w":0.92},{"p":"KICH","s":"I","y":0.4,"w":0.85},{"p":"KICH","s":"I","y":0.6,"w":0.6},{"p":"KICH","s":"I","y":0.8,"w":0.35},{"p":"KICH","s":"I","y":1.0,"w":0.2},{"p":"KICH","s":"I","y":1.3,"w":0.12},{"p":"KICH","s":"I","y":1.6,"w":0.1},{"p":"KICH","s":"I","y":2.0,"w":0.08},
{"p":"KICH","s":"II","y":0.05,"w":0.8},{"p":"KICH","s":"II","y":0.2,"w":0.95},{"p":"KICH","s":"II","y":0.4,"w":0.85},{"p":"KICH","s":"II","y":0.6,"w":0.55},{"p":"KICH","s":"II","y":0.8,"w":0.3},{"p":"KICH","s":"II","y":1.0,"w":0.17},{"p":"KICH","s":"II","y":1.3,"w":0.12},{"p":"KICH","s":"II","y":1.6,"w":0.12},{"p":"KICH","s":"II","y":1.8,"w":0.12},
{"p":"KICH","s":"III","y":0.05,"w":0.7},{"p":"KICH","s":"III","y":0.3,"w":0.9},{"p":"KICH","s":"III","y":0.6,"w":0.95},{"p":"KICH","s":"III","y":0.9,"w":0.7},{"p":"KICH","s":"III","y":1.2,"w":0.4},{"p":"KICH","s":"III","y":1.5,"w":0.2},{"p":"KICH","s":"III","y":1.8,"w":0.14},{"p":"KICH","s":"III","y":2.2,"w":0.12},{"p":"KICH","s":"III","y":2.65,"w":0.12},
{"p":"KICH","s":"IV","y":0.35,"w":1.0},{"p":"KICH","s":"IV","y":1.0,"w":0.98},{"p":"KICH","s":"IV","y":2.0,"w":0.85},{"p":"KICH","s":"IV","y":3.0,"w":0.7},{"p":"KICH","s":"IV","y":4.0,"w":0.55},{"p":"KICH","s":"IV","y":5.0,"w":0.42},{"p":"KICH","s":"IV","y":6.0,"w":0.32},{"p":"KICH","s":"IV","y":7.0,"w":0.26},{"p":"KICH","s":"IV","y":8.0,"w":0.23},{"p":"KICH","s":"IV","y":8.5,"w":0.23},
{"p":"KIRC","s":"I","y":0.28,"w":0.28},{"p":"KIRC","s":"I","y":0.6,"w":0.45},{"p":"KIRC","s":"I","y":1.0,"w":0.7},{"p":"KIRC","s":"I","y":1.5,"w":0.9},{"p":"KIRC","s":"I","y":2.0,"w":1.0},{"p":"KIRC","s":"I","y":2.5,"w":0.95},{"p":"KIRC","s":"I","y":3.0,"w":0.7},{"p":"KIRC","s":"I","y":3.5,"w":0.4},{"p":"KIRC","s":"I","y":4.0,"w":0.22},{"p":"KIRC","s":"I","y":4.5,"w":0.1},{"p":"KIRC","s":"I","y":4.85,"w":0.05},
{"p":"KIRC","s":"II","y":0.02,"w":0.1},{"p":"KIRC","s":"II","y":0.5,"w":0.55},{"p":"KIRC","s":"II","y":1.0,"w":0.85},{"p":"KIRC","s":"II","y":1.5,"w":0.98},{"p":"KIRC","s":"II","y":2.0,"w":1.0},{"p":"KIRC","s":"II","y":2.5,"w":0.92},{"p":"KIRC","s":"II","y":3.0,"w":0.6},{"p":"KIRC","s":"II","y":3.5,"w":0.3},{"p":"KIRC","s":"II","y":4.0,"w":0.15},{"p":"KIRC","s":"II","y":4.3,"w":0.1},
{"p":"KIRC","s":"III","y":0.38,"w":0.4},{"p":"KIRC","s":"III","y":0.8,"w":0.7},{"p":"KIRC","s":"III","y":1.3,"w":0.9},{"p":"KIRC","s":"III","y":1.8,"w":1.0},{"p":"KIRC","s":"III","y":2.3,"w":0.98},{"p":"KIRC","s":"III","y":2.8,"w":0.85},{"p":"KIRC","s":"III","y":3.3,"w":0.6},{"p":"KIRC","s":"III","y":3.8,"w":0.35},{"p":"KIRC","s":"III","y":4.3,"w":0.22},{"p":"KIRC","s":"III","y":4.7,"w":0.15},{"p":"KIRC","s":"III","y":5.0,"w":0.12},
{"p":"KIRC","s":"IV","y":0.55,"w":0.6},{"p":"KIRC","s":"IV","y":1.0,"w":0.8},{"p":"KIRC","s":"IV","y":1.5,"w":0.95},{"p":"KIRC","s":"IV","y":2.0,"w":1.0},{"p":"KIRC","s":"IV","y":2.5,"w":0.98},{"p":"KIRC","s":"IV","y":3.0,"w":0.9},{"p":"KIRC","s":"IV","y":3.5,"w":0.7},{"p":"KIRC","s":"IV","y":4.0,"w":0.45},{"p":"KIRC","s":"IV","y":4.5,"w":0.28},{"p":"KIRC","s":"IV","y":5.0,"w":0.16},{"p":"KIRC","s":"IV","y":5.5,"w":0.1},{"p":"KIRC","s":"IV","y":6.0,"w":0.07},{"p":"KIRC","s":"IV","y":6.35,"w":0.05},
{"p":"KIRP","s":"I","y":0.08,"w":0.85},{"p":"KIRP","s":"I","y":0.3,"w":0.98},{"p":"KIRP","s":"I","y":0.6,"w":0.9},{"p":"KIRP","s":"I","y":0.9,"w":0.6},{"p":"KIRP","s":"I","y":1.2,"w":0.35},{"p":"KIRP","s":"I","y":1.5,"w":0.22},{"p":"KIRP","s":"I","y":1.8,"w":0.15},{"p":"KIRP","s":"I","y":2.2,"w":0.1},{"p":"KIRP","s":"I","y":2.6,"w":0.08},{"p":"KIRP","s":"I","y":3.0,"w":0.06},{"p":"KIRP","s":"I","y":3.5,"w":0.05},
{"p":"KIRP","s":"II","y":0.1,"w":0.7},{"p":"KIRP","s":"II","y":0.4,"w":0.88},{"p":"KIRP","s":"II","y":0.8,"w":0.95},{"p":"KIRP","s":"II","y":1.2,"w":0.8},{"p":"KIRP","s":"II","y":1.6,"w":0.55},{"p":"KIRP","s":"II","y":2.0,"w":0.3},{"p":"KIRP","s":"II","y":2.4,"w":0.15},{"p":"KIRP","s":"II","y":2.8,"w":0.1},{"p":"KIRP","s":"II","y":3.2,"w":0.12},{"p":"KIRP","s":"II","y":3.55,"w":0.12},
{"p":"KIRP","s":"III","y":0.2,"w":0.85},{"p":"KIRP","s":"III","y":0.6,"w":0.95},{"p":"KIRP","s":"III","y":1.0,"w":0.95},{"p":"KIRP","s":"III","y":1.5,"w":0.8},{"p":"KIRP","s":"III","y":2.0,"w":0.6},{"p":"KIRP","s":"III","y":2.5,"w":0.4},{"p":"KIRP","s":"III","y":3.0,"w":0.25},{"p":"KIRP","s":"III","y":3.5,"w":0.15},{"p":"KIRP","s":"III","y":4.0,"w":0.1},{"p":"KIRP","s":"III","y":4.5,"w":0.08},
{"p":"KIRP","s":"IV","y":0.1,"w":0.6},{"p":"KIRP","s":"IV","y":0.5,"w":0.8},{"p":"KIRP","s":"IV","y":1.0,"w":0.9},{"p":"KIRP","s":"IV","y":1.5,"w":0.95},{"p":"KIRP","s":"IV","y":2.0,"w":1.0},{"p":"KIRP","s":"IV","y":2.5,"w":1.0},{"p":"KIRP","s":"IV","y":3.0,"w":0.95},{"p":"KIRP","s":"IV","y":3.5,"w":0.88},{"p":"KIRP","s":"IV","y":4.0,"w":0.8},{"p":"KIRP","s":"IV","y":4.6,"w":0.7},
{"p":"OV","s":"I","y":0.15,"w":0.85},{"p":"OV","s":"I","y":0.5,"w":0.9},{"p":"OV","s":"I","y":1.0,"w":0.92},{"p":"OV","s":"I","y":1.5,"w":0.88},{"p":"OV","s":"I","y":2.0,"w":0.78},{"p":"OV","s":"I","y":2.5,"w":0.55},{"p":"OV","s":"I","y":3.0,"w":0.32},{"p":"OV","s":"I","y":3.5,"w":0.18},{"p":"OV","s":"I","y":4.0,"w":0.1},{"p":"OV","s":"I","y":4.6,"w":0.05},
{"p":"OV","s":"II","y":0.02,"w":0.85},{"p":"OV","s":"II","y":0.5,"w":0.92},{"p":"OV","s":"II","y":1.0,"w":0.95},{"p":"OV","s":"II","y":1.5,"w":0.85},{"p":"OV","s":"II","y":2.0,"w":0.7},{"p":"OV","s":"II","y":2.5,"w":0.62},{"p":"OV","s":"II","y":3.0,"w":0.65},{"p":"OV","s":"II","y":3.5,"w":0.72},{"p":"OV","s":"II","y":4.0,"w":0.78},{"p":"OV","s":"II","y":4.5,"w":0.72},{"p":"OV","s":"II","y":5.0,"w":0.5},{"p":"OV","s":"II","y":5.5,"w":0.35},{"p":"OV","s":"II","y":5.9,"w":0.25},
{"p":"OV","s":"III","y":0.15,"w":0.66},{"p":"OV","s":"III","y":0.6,"w":0.8},{"p":"OV","s":"III","y":1.2,"w":0.92},{"p":"OV","s":"III","y":2.0,"w":1.0},{"p":"OV","s":"III","y":2.8,"w":1.0},{"p":"OV","s":"III","y":3.5,"w":0.96},{"p":"OV","s":"III","y":4.2,"w":0.86},{"p":"OV","s":"III","y":4.8,"w":0.68},{"p":"OV","s":"III","y":5.2,"w":0.55},{"p":"OV","s":"III","y":5.6,"w":0.47},
{"p":"STAD","s":"I","y":0.2,"w":0.2},{"p":"STAD","s":"I","y":0.7,"w":0.4},{"p":"STAD","s":"I","y":1.2,"w":0.6},{"p":"STAD","s":"I","y":1.8,"w":0.8},{"p":"STAD","s":"I","y":2.4,"w":0.95},{"p":"STAD","s":"I","y":3.0,"w":1.0},{"p":"STAD","s":"I","y":3.6,"w":0.95},{"p":"STAD","s":"I","y":4.2,"w":0.75},{"p":"STAD","s":"I","y":4.8,"w":0.45},{"p":"STAD","s":"I","y":5.4,"w":0.25},{"p":"STAD","s":"I","y":6.0,"w":0.12},{"p":"STAD","s":"I","y":6.5,"w":0.07},{"p":"STAD","s":"I","y":7.0,"w":0.04},
{"p":"STAD","s":"II","y":0.9,"w":0.3},{"p":"STAD","s":"II","y":1.5,"w":0.5},{"p":"STAD","s":"II","y":2.0,"w":0.68},{"p":"STAD","s":"II","y":2.5,"w":0.85},{"p":"STAD","s":"II","y":3.0,"w":0.95},{"p":"STAD","s":"II","y":3.5,"w":1.0},{"p":"STAD","s":"II","y":4.0,"w":0.98},{"p":"STAD","s":"II","y":4.5,"w":0.8},{"p":"STAD","s":"II","y":5.0,"w":0.5},{"p":"STAD","s":"II","y":5.5,"w":0.3},{"p":"STAD","s":"II","y":6.0,"w":0.15},{"p":"STAD","s":"II","y":6.5,"w":0.05},
{"p":"STAD","s":"III","y":0.6,"w":0.3},{"p":"STAD","s":"III","y":1.2,"w":0.5},{"p":"STAD","s":"III","y":1.8,"w":0.68},{"p":"STAD","s":"III","y":2.4,"w":0.82},{"p":"STAD","s":"III","y":3.0,"w":0.92},{"p":"STAD","s":"III","y":3.6,"w":1.0},{"p":"STAD","s":"III","y":4.2,"w":0.95},{"p":"STAD","s":"III","y":4.8,"w":0.65},{"p":"STAD","s":"III","y":5.3,"w":0.35},{"p":"STAD","s":"III","y":5.85,"w":0.25},
{"p":"STAD","s":"IV","y":0.5,"w":0.25},{"p":"STAD","s":"IV","y":1.2,"w":0.5},{"p":"STAD","s":"IV","y":1.9,"w":0.72},{"p":"STAD","s":"IV","y":2.6,"w":0.88},{"p":"STAD","s":"IV","y":3.3,"w":0.98},{"p":"STAD","s":"IV","y":4.0,"w":1.0},{"p":"STAD","s":"IV","y":4.6,"w":0.85},{"p":"STAD","s":"IV","y":5.2,"w":0.6},{"p":"STAD","s":"IV","y":5.75,"w":0.42}
],
"vsum":[
{"p":"BLCA","s":"I","mn":0.2,"q1":0.85,"md":1.67,"q3":3.35,"mx":6.35},{"p":"BLCA","s":"II","mn":0.15,"q1":2.2,"md":3.7,"q3":4.85,"mx":7.05},{"p":"BLCA","s":"III","mn":0.3,"q1":2.35,"md":3.55,"q3":4.75,"mx":6.55},
{"p":"COAD","s":"I","mn":0.3,"q1":1.9,"md":2.7,"q3":3.45,"mx":5.8},{"p":"COAD","s":"II","mn":0.35,"q1":1.9,"md":3.15,"q3":4.15,"mx":6.6},{"p":"COAD","s":"III","mn":0.3,"q1":2.1,"md":3.4,"q3":4.2,"mx":6.4},{"p":"COAD","s":"IV","mn":0.8,"q1":2.25,"md":3.5,"q3":4.15,"mx":8.1},
{"p":"ESCA","s":"I","mn":0.7,"q1":1.3,"md":1.65,"q3":2.3,"mx":3.75},{"p":"ESCA","s":"II","mn":0.6,"q1":2.3,"md":3.4,"q3":4.5,"mx":6.4},{"p":"ESCA","s":"III","mn":0.9,"q1":2.4,"md":3.25,"q3":4.75,"mx":6.2},{"p":"ESCA","s":"IV","mn":1.1,"q1":1.85,"md":2.7,"q3":3.6,"mx":5.65},
{"p":"KICH","s":"I","mn":0.05,"q1":0.15,"md":0.3,"q3":0.85,"mx":2.0},{"p":"KICH","s":"II","mn":0.05,"q1":0.2,"md":0.35,"q3":0.7,"mx":1.8},{"p":"KICH","s":"III","mn":0.05,"q1":0.35,"md":0.62,"q3":0.85,"mx":2.65},{"p":"KICH","s":"IV","mn":0.35,"q1":0.5,"md":0.52,"q3":2.85,"mx":6.6},
{"p":"KIRC","s":"I","mn":0.28,"q1":1.3,"md":1.95,"q3":2.75,"mx":4.85},{"p":"KIRC","s":"II","mn":0.02,"q1":1.1,"md":1.82,"q3":2.6,"mx":4.3},{"p":"KIRC","s":"III","mn":0.38,"q1":1.7,"md":2.18,"q3":3.15,"mx":5.0},{"p":"KIRC","s":"IV","mn":0.55,"q1":1.5,"md":2.25,"q3":3.2,"mx":6.35},
{"p":"KIRP","s":"I","mn":0.08,"q1":0.45,"md":0.75,"q3":1.4,"mx":3.5},{"p":"KIRP","s":"II","mn":0.1,"q1":0.45,"md":0.95,"q3":1.3,"mx":3.55},{"p":"KIRP","s":"III","mn":0.2,"q1":0.55,"md":1.28,"q3":2.0,"mx":4.5},{"p":"KIRP","s":"IV","mn":0.1,"q1":1.2,"md":2.2,"q3":3.3,"mx":4.6},
{"p":"OV","s":"I","mn":0.15,"q1":0.95,"md":1.55,"q3":2.1,"mx":4.6},{"p":"OV","s":"II","mn":0.02,"q1":0.9,"md":2.15,"q3":3.9,"mx":5.9},{"p":"OV","s":"III","mn":0.15,"q1":1.4,"md":2.3,"q3":3.8,"mx":5.6},
{"p":"STAD","s":"I","mn":0.2,"q1":1.7,"md":2.75,"q3":3.55,"mx":7.0},{"p":"STAD","s":"II","mn":0.9,"q1":2.7,"md":3.5,"q3":4.3,"mx":6.5},{"p":"STAD","s":"III","mn":0.6,"q1":2.4,"md":3.35,"q3":4.05,"mx":5.85},{"p":"STAD","s":"IV","mn":0.5,"q1":2.35,"md":3.6,"q3":4.4,"mx":5.75}
],
"vbase":[{"p":"BLCA","s":"I"},{"p":"BLCA","s":"II"},{"p":"COAD","s":"I"},{"p":"COAD","s":"II"},{"p":"KICH","s":"I"},{"p":"KICH","s":"II"},{"p":"KIRC","s":"I"},{"p":"KIRC","s":"II"},{"p":"KIRP","s":"I"},{"p":"KIRP","s":"II"},{"p":"OV","s":"I"},{"p":"OV","s":"II"},{"p":"STAD","s":"I"},{"p":"STAD","s":"II"}],
"vlab":[{"p":"BLCA","n":"BLCA","st":"F=27.1 p<0.001"},{"p":"COAD","n":"COAD","st":"F=2.78 p=0.042"},{"p":"ESCA","n":"ESCA","st":"F=4.51 p=0.045"},{"p":"KICH","n":"KICH","st":"F=5.09 p=0.003"},{"p":"KIRC","n":"KIRC","st":"F=5.67 p<0.001"},{"p":"KIRP","n":"KIRP","st":"F=11.8\u00a0\u00a0\u00a0\u00a0p<0.001"},{"p":"OV","n":"OV","st":"F=3.64\u00a0\u00a0\u00a0\u00a0p=0.0272"},{"p":"STAD","n":"STAD","st":"F=5.94\u00a0\u00a0\u00a0\u00a0p<0.001"}],
"box":[
{"p":"COAD","g":"Normal","lo":-1.87,"q1":-0.75,"md":-0.37,"q3":0.0,"hi":0.6},{"p":"COAD","g":"Tumor","lo":-1.28,"q1":0.33,"md":1.0,"q3":1.82,"hi":3.42},
{"p":"KIRC","g":"Normal","lo":-2.7,"q1":-1.55,"md":-0.93,"q3":-0.2,"hi":1.55},{"p":"KIRC","g":"Tumor","lo":-1.73,"q1":-0.68,"md":0.0,"q3":0.72,"hi":2.45},
{"p":"LUAD","g":"Normal","lo":-2.42,"q1":-1.5,"md":-1.12,"q3":-0.68,"hi":0.33},{"p":"LUAD","g":"Tumor","lo":-1.95,"q1":-0.7,"md":0.0,"q3":0.78,"hi":2.75},
{"p":"BRCA","g":"Normal","lo":-1.93,"q1":-1.4,"md":-1.15,"q3":-0.88,"hi":-0.23},{"p":"BRCA","g":"Tumor","lo":-2.12,"q1":-0.82,"md":0.0,"q3":0.73,"hi":2.63}
],
"blab":[{"p":"COAD","t":"COAD ***"},{"p":"KIRC","t":"KIRC ***"},{"p":"LUAD","t":"LUAD ***"},{"p":"BRCA","t":"Breast cancer ***"}]
},
"vconcat":[
{"bounds":"flush","spacing":10,"title":{"text":"(a)","dx":-77,"offset":-7},"hconcat":[
 {"width":62,"height":1,"data":{"values":[{}]},"mark":{"type":"point","opacity":0},"encoding":{},"view":{"stroke":null}},
 {"width":918,"height":405,
  "title":{"text":"TCGA+GTEx Dataset","dx":-69,"offset":27},
  "encoding":{"x":{"field":"c","type":"nominal","sort":null,"scale":{"domain":["ACC","BLCA","BRCA","CESC","CHOL","COAD","DLBC","ESCA","GBM","HNSC","KICH","KIRC","KIRP","LAML","LGG","LIHC","LUAD","LUSC","MESO","OV","PAAD","PCPG","PRAD","READ","SARC","SKCM","STAD","TGCT","THCA","THYM","UCEC","UCS","UVM"],"paddingInner":0,"paddingOuter":0},
   "axis":{"title":null,"labelAngle":-90,"labelFont":"Liberation Serif","labelFontWeight":"bold","labelFontSize":16,"labelPadding":6,"ticks":false,"domainColor":"#555","minExtent":50,"maxExtent":50,
    "labelColor":{"condition":[{"test":"indexof(['BLCA','BRCA','COAD','DLBC','ESCA','HNSC','KIRC','PAAD','STAD'], datum.value) >= 0","value":"#e8202a"},{"test":"indexof(['UCEC','UCS'], datum.value) >= 0","value":"#1f9e4a"}],"value":"black"}}}},
  "layer":[
   {"data":{"name":"cats"},"transform":[{"window":[{"op":"row_number","as":"i"}]},{"filter":"datum.i % 2 == 0"}],
    "mark":{"type":"rect","color":"#ebebeb"},
    "encoding":{"y":{"datum":0,"type":"quantitative","scale":{"domain":[0,9],"nice":false,"zero":false},
      "axis":{"title":["FAP Expression Level","(Log2 TPM)"],"values":[0,1,2,3,4,5,6,7,8,9],"tickCount":20,"format":"d","labelOverlap":false,"labelFont":"Liberation Sans","labelFontSize":9,"labelColor":"#333","tickSize":4,"tickColor":"#444","domainColor":"#555","titleFont":"Liberation Serif","titleFontSize":27,"titleFontWeight":"bold","titleColor":"black","titleLineHeight":26,"titlePadding":21}},
     "y2":{"datum":9}}},
   {"data":{"name":"pts"},"transform":[{"filter":"datum.g == 'T'"},{"window":[{"op":"row_number","as":"r"}],"groupby":["c"],"sort":[{"field":"v"}]}],
    "mark":{"type":"circle","size":8,"opacity":0.85,"color":"#ee3340"},
    "encoding":{"y":{"field":"v","type":"quantitative"},"xOffset":{"field":"r","type":"ordinal","scale":{"range":[2,13]}}}},
   {"data":{"name":"pts"},"transform":[{"filter":"datum.g == 'N'"},{"window":[{"op":"row_number","as":"r"}],"groupby":["c"],"sort":[{"field":"v"}]}],
    "mark":{"type":"circle","size":8,"opacity":0.85,"color":"#1e9d4a"},
    "encoding":{"y":{"field":"v","type":"quantitative"},"xOffset":{"field":"r","type":"ordinal","scale":{"range":[15,26]}}}},
   {"data":{"name":"med"},"mark":{"type":"tick","orient":"horizontal","size":12,"thickness":2,"color":"black"},
    "encoding":{"y":{"field":"m","type":"quantitative"},"xOffset":{"field":"g","type":"nominal","scale":{"domain":["T","N"]}}}},
   {"data":{"name":"stars"},"mark":{"type":"text","text":"***","fontSize":14,"fontWeight":"bold","baseline":"middle","font":"Liberation Serif"},
    "encoding":{"y":{"datum":7.9}}}
  ],
  "resolve":{"scale":{"xOffset":"independent"}}
 }
]},
{"bounds":"flush","spacing":29,"title":{"text":"(b)","dx":-77,"offset":4},"hconcat":[
 {"width":230,"height":209,
  "title":{"text":"TCGA+GTEx Dataset","dx":3,"offset":16},
  "layer":[
   {"data":{"name":"vio"},"transform":[{"filter":"datum.p == 'BLCA' && datum.s == 'I'"}],"mark":{"type":"area","orient":"horizontal","color":"#e01f26","stroke":"#6b1515","strokeWidth":0.8,"interpolate":"monotone"},
    "encoding":{"y":{"field":"y","type":"quantitative","scale":{"domain":[-0.24,8.08],"nice":false,"zero":false},"axis":{"values":[0,2,4,6,8],"tickCount":20,"format":"d","labelOverlap":false,"labelAngle":-90,"labelAlign":"center","labelBaseline":"bottom","labelFont":"Liberation Sans","labelFontSize":9,"labelColor":"#444","labelPadding":2,"tickSize":4,"tickColor":"#555","domainColor":"#555","offset":3,"title":["FAP expression","Log2（TPM+1）"],"titleFont":"Liberation Serif","titleFontSize":17,"titleFontWeight":"bold","titleColor":"black","titleLineHeight":21,"titlePadding":11}},
     "x":{"field":"w","type":"quantitative","stack":"center","impute":null,"scale":{"domain":[-0.287,3.748],"nice":false,"zero":false},"axis":null},"detail":{"field":"s"}}},
   {"data":{"name":"vio"},"transform":[{"filter":"datum.p == 'BLCA' && datum.s == 'II'"}],"mark":{"type":"area","orient":"horizontal","color":"#e01f26","stroke":"#6b1515","strokeWidth":0.8,"interpolate":"monotone"},
    "encoding":{"y":{"field":"y","type":"quantitative"},"x":{"field":"w","type":"quantitative","stack":"center","impute":null,"scale":{"domain":[-1.518,2.518],"nice":false,"zero":false},"axis":null},"detail":{"field":"s"}}},
   {"data":{"name":"vio"},"transform":[{"filter":"datum.p == 'BLCA' && datum.s == 'III'"}],"mark":{"type":"area","orient":"horizontal","color":"#e01f26","stroke":"#6b1515","strokeWidth":0.8,"interpolate":"monotone"},
    "encoding":{"y":{"field":"y","type":"quantitative"},"x":{"field":"w","type":"quantitative","stack":"center","impute":null,"scale":{"domain":[-2.748,1.287],"nice":false,"zero":false},"axis":null},"detail":{"field":"s"}}},
   {"data":{"name":"vsum"},"transform":[{"filter":"datum.p == 'BLCA'"}],"mark":{"type":"rule","color":"#4a0a0a","strokeWidth":0.8},"encoding":{"x":{"field":"s","type":"ordinal","scale":{"type":"point","domain":["I","II","III"],"padding":0.64},"axis":{"title":"Stage:","titleX":21,"titleY":8,"titleAlign":"right","titleBaseline":"top","titleFont":"Liberation Serif","titleFontSize":20,"titleFontWeight":"bold","titleColor":"black","labelAngle":0,"labelFont":"Liberation Serif","labelFontSize":20,"labelFontWeight":"bold","labelColor":"black","labelBaseline":"top","labelPadding":3,"tickSize":5,"tickColor":"#555","domain":false,"minExtent":48,"maxExtent":48}},"y":{"field":"mn","type":"quantitative"},"y2":{"field":"mx"}}},
   {"data":{"name":"vsum"},"transform":[{"filter":"datum.p == 'BLCA'"}],"mark":{"type":"rule","color":"black","strokeWidth":5},"encoding":{"x":{"field":"s","type":"ordinal","scale":{"type":"point","domain":["I","II","III"],"padding":0.64},"axis":null},"y":{"field":"q1","type":"quantitative"},"y2":{"field":"q3"}}},
   {"data":{"name":"vsum"},"transform":[{"filter":"datum.p == 'BLCA'"}],"mark":{"type":"circle","color":"white","size":30,"opacity":1},"encoding":{"x":{"field":"s","type":"ordinal","scale":{"type":"point","domain":["I","II","III"],"padding":0.64},"axis":null},"y":{"field":"md","type":"quantitative"}}},
   {"data":{"name":"vbase"},"transform":[{"filter":"datum.p == 'BLCA'"}],"mark":{"type":"tick","orient":"horizontal","size":56,"thickness":2,"color":"#333"},"encoding":{"x":{"field":"s","type":"ordinal","scale":{"type":"point","domain":["I","II","III"],"padding":0.64},"axis":null},"y":{"datum":0}}},
   {"data":{"name":"vlab"},"transform":[{"filter":"datum.p == 'BLCA'"}],"mark":{"type":"text","align":"left","baseline":"middle","dx":-38,"fontSize":19,"fontWeight":"bold","font":"Liberation Serif"},"encoding":{"x":{"datum":"I","type":"ordinal","scale":{"type":"point","domain":["I","II","III"],"padding":0.64},"axis":null},"y":{"datum":7.4},"text":{"field":"n"}}},
   {"data":{"name":"vlab"},"transform":[{"filter":"datum.p == 'BLCA'"}],"mark":{"type":"text","align":"right","baseline":"middle","dx":43,"fontSize":19,"fontWeight":"bold","font":"Liberation Serif"},"encoding":{"x":{"datum":"III","type":"ordinal","scale":{"type":"point","domain":["I","II","III"],"padding":0.64},"axis":null},"y":{"datum":7.4},"text":{"field":"st"}}}
  ],
  "resolve":{"scale":{"x":"independent"}}
 },
 {"width":232,"height":209,
  "layer":[
   {"data":{"name":"vio"},"transform":[{"filter":"datum.p == 'COAD' && datum.s == 'I'"}],"mark":{"type":"area","orient":"horizontal","color":"#e01f26","stroke":"#6b1515","strokeWidth":0.8,"interpolate":"monotone"},
    "encoding":{"y":{"field":"y","type":"quantitative","scale":{"domain":[-0.15,9.35],"nice":false,"zero":false},"axis":{"values":[0,2,4,6,8],"tickCount":20,"format":"d","labelOverlap":false,"labelAngle":-90,"labelAlign":"center","labelBaseline":"bottom","labelFont":"Liberation Sans","labelFontSize":9,"labelColor":"#444","labelPadding":2,"tickSize":4,"tickColor":"#555","domainColor":"#555","offset":3,"title":null}},
     "x":{"field":"w","type":"quantitative","stack":"center","impute":null,"scale":{"domain":[-0.279,4.876],"nice":false,"zero":false},"axis":null},"detail":{"field":"s"}}},
   {"data":{"name":"vio"},"transform":[{"filter":"datum.p == 'COAD' && datum.s == 'II'"}],"mark":{"type":"area","orient":"horizontal","color":"#e01f26","stroke":"#6b1515","strokeWidth":0.8,"interpolate":"monotone"},
    "encoding":{"y":{"field":"y","type":"quantitative"},"x":{"field":"w","type":"quantitative","stack":"center","impute":null,"scale":{"domain":[-1.478,3.677],"nice":false,"zero":false},"axis":null},"detail":{"field":"s"}}},
   {"data":{"name":"vio"},"transform":[{"filter":"datum.p == 'COAD' && datum.s == 'III'"}],"mark":{"type":"area","orient":"horizontal","color":"#e01f26","stroke":"#6b1515","strokeWidth":0.8,"interpolate":"monotone"},
    "encoding":{"y":{"field":"y","type":"quantitative"},"x":{"field":"w","type":"quantitative","stack":"center","impute":null,"scale":{"domain":[-2.677,2.478],"nice":false,"zero":false},"axis":null},"detail":{"field":"s"}}},
   {"data":{"name":"vio"},"transform":[{"filter":"datum.p == 'COAD' && datum.s == 'IV'"}],"mark":{"type":"area","orient":"horizontal","color":"#e01f26","stroke":"#6b1515","strokeWidth":0.8,"interpolate":"monotone"},
    "encoding":{"y":{"field":"y","type":"quantitative"},"x":{"field":"w","type":"quantitative","stack":"center","impute":null,"scale":{"domain":[-3.876,1.279],"nice":false,"zero":false},"axis":null},"detail":{"field":"s"}}},
   {"data":{"name":"vsum"},"transform":[{"filter":"datum.p == 'COAD'"}],"mark":{"type":"rule","color":"#4a0a0a","strokeWidth":0.8},"encoding":{"x":{"field":"s","type":"ordinal","scale":{"type":"point","domain":["I","II","III","IV"],"padding":0.65},"axis":{"title":"Stage:","titleX":21,"titleY":8,"titleAlign":"right","titleBaseline":"top","titleFont":"Liberation Serif","titleFontSize":20,"titleFontWeight":"bold","titleColor":"black","labelAngle":0,"labelFont":"Liberation Serif","labelFontSize":20,"labelFontWeight":"bold","labelColor":"black","labelBaseline":"top","labelPadding":3,"tickSize":5,"tickColor":"#555","domain":false,"minExtent":48,"maxExtent":48}},"y":{"field":"mn","type":"quantitative"},"y2":{"field":"mx"}}},
   {"data":{"name":"vsum"},"transform":[{"filter":"datum.p == 'COAD'"}],"mark":{"type":"rule","color":"black","strokeWidth":5},"encoding":{"x":{"field":"s","type":"ordinal","scale":{"type":"point","domain":["I","II","III","IV"],"padding":0.65},"axis":null},"y":{"field":"q1","type":"quantitative"},"y2":{"field":"q3"}}},
   {"data":{"name":"vsum"},"transform":[{"filter":"datum.p == 'COAD'"}],"mark":{"type":"circle","color":"white","size":30,"opacity":1},"encoding":{"x":{"field":"s","type":"ordinal","scale":{"type":"point","domain":["I","II","III","IV"],"padding":0.65},"axis":null},"y":{"field":"md","type":"quantitative"}}},
   {"data":{"name":"vbase"},"transform":[{"filter":"datum.p == 'COAD'"}],"mark":{"type":"tick","orient":"horizontal","size":44,"thickness":2,"color":"#333"},"encoding":{"x":{"field":"s","type":"ordinal","scale":{"type":"point","domain":["I","II","III","IV"],"padding":0.65},"axis":null},"y":{"datum":0}}},
   {"data":{"name":"vlab"},"transform":[{"filter":"datum.p == 'COAD'"}],"mark":{"type":"text","align":"left","baseline":"middle","dx":-25,"fontSize":19,"fontWeight":"bold","font":"Liberation Serif"},"encoding":{"x":{"datum":"I","type":"ordinal","scale":{"type":"point","domain":["I","II","III","IV"],"padding":0.65},"axis":null},"y":{"datum":8.5},"text":{"field":"n"}}},
   {"data":{"name":"vlab"},"transform":[{"filter":"datum.p == 'COAD'"}],"mark":{"type":"text","align":"right","baseline":"middle","dx":32,"fontSize":19,"fontWeight":"bold","font":"Liberation Serif"},"encoding":{"x":{"datum":"IV","type":"ordinal","scale":{"type":"point","domain":["I","II","III","IV"],"padding":0.65},"axis":null},"y":{"datum":8.5},"text":{"field":"st"}}}
  ],
  "resolve":{"scale":{"x":"independent"}}
 },
 {"width":240,"height":209,
  "layer":[
   {"data":{"name":"vio"},"transform":[{"filter":"datum.p == 'ESCA' && datum.s == 'I'"}],"mark":{"type":"area","orient":"horizontal","color":"#e01f26","stroke":"#6b1515","strokeWidth":0.8,"interpolate":"monotone"},
    "encoding":{"y":{"field":"y","type":"quantitative","scale":{"domain":[0.36,7.33],"nice":false,"zero":false},"axis":{"values":[1,2,3,4,5,6,7],"tickCount":20,"format":"d","labelOverlap":false,"labelAngle":-90,"labelAlign":"center","labelBaseline":"bottom","labelFont":"Liberation Sans","labelFontSize":9,"labelColor":"#444","labelPadding":2,"tickSize":4,"tickColor":"#555","domainColor":"#555","offset":3,"title":null}},
     "x":{"field":"w","type":"quantitative","stack":"center","impute":null,"scale":{"domain":[-0.381,4.952],"nice":false,"zero":false},"axis":null},"detail":{"field":"s"}}},
   {"data":{"name":"vio"},"transform":[{"filter":"datum.p == 'ESCA' && datum.s == 'II'"}],"mark":{"type":"area","orient":"horizontal","color":"#e01f26","stroke":"#6b1515","strokeWidth":0.8,"interpolate":"monotone"},
    "encoding":{"y":{"field":"y","type":"quantitative"},"x":{"field":"w","type":"quantitative","stack":"center","impute":null,"scale":{"domain":[-1.546,3.787],"nice":false,"zero":false},"axis":null},"detail":{"field":"s"}}},
   {"data":{"name":"vio"},"transform":[{"filter":"datum.p == 'ESCA' && datum.s == 'III'"}],"mark":{"type":"area","orient":"horizontal","color":"#e01f26","stroke":"#6b1515","strokeWidth":0.8,"interpolate":"monotone"},
    "encoding":{"y":{"field":"y","type":"quantitative"},"x":{"field":"w","type":"quantitative","stack":"center","impute":null,"scale":{"domain":[-2.787,2.546],"nice":false,"zero":false},"axis":null},"detail":{"field":"s"}}},
   {"data":{"name":"vio"},"transform":[{"filter":"datum.p == 'ESCA' && datum.s == 'IV'"}],"mark":{"type":"area","orient":"horizontal","color":"#e01f26","stroke":"#6b1515","strokeWidth":0.8,"interpolate":"monotone"},
    "encoding":{"y":{"field":"y","type":"quantitative"},"x":{"field":"w","type":"quantitative","stack":"center","impute":null,"scale":{"domain":[-4.052,1.281],"nice":false,"zero":false},"axis":null},"detail":{"field":"s"}}},
   {"data":{"name":"vsum"},"transform":[{"filter":"datum.p == 'ESCA'"}],"mark":{"type":"rule","color":"#4a0a0a","strokeWidth":0.8},"encoding":{"x":{"field":"s","type":"ordinal","scale":{"type":"point","domain":["I","II","III","IV"],"padding":0.65},"axis":{"title":"Stage:","titleX":27,"titleY":8,"titleAlign":"right","titleBaseline":"top","titleFont":"Liberation Serif","titleFontSize":20,"titleFontWeight":"bold","titleColor":"black","labelAngle":0,"labelFont":"Liberation Serif","labelFontSize":20,"labelFontWeight":"bold","labelColor":"black","labelBaseline":"top","labelPadding":3,"tickSize":5,"tickColor":"#555","domain":false,"minExtent":48,"maxExtent":48}},"y":{"field":"mn","type":"quantitative"},"y2":{"field":"mx"}}},
   {"data":{"name":"vsum"},"transform":[{"filter":"datum.p == 'ESCA'"}],"mark":{"type":"rule","color":"black","strokeWidth":5},"encoding":{"x":{"field":"s","type":"ordinal","scale":{"type":"point","domain":["I","II","III","IV"],"padding":0.65},"axis":null},"y":{"field":"q1","type":"quantitative"},"y2":{"field":"q3"}}},
   {"data":{"name":"vsum"},"transform":[{"filter":"datum.p == 'ESCA'"}],"mark":{"type":"circle","color":"white","size":30,"opacity":1},"encoding":{"x":{"field":"s","type":"ordinal","scale":{"type":"point","domain":["I","II","III","IV"],"padding":0.65},"axis":null},"y":{"field":"md","type":"quantitative"}}},
   {"data":{"name":"vlab"},"transform":[{"filter":"datum.p == 'ESCA'"}],"mark":{"type":"text","align":"left","baseline":"middle","dx":-32,"fontSize":19,"fontWeight":"bold","font":"Liberation Serif"},"encoding":{"x":{"datum":"I","type":"ordinal","scale":{"type":"point","domain":["I","II","III","IV"],"padding":0.65},"axis":null},"y":{"datum":6.83},"text":{"field":"n"}}},
   {"data":{"name":"vlab"},"transform":[{"filter":"datum.p == 'ESCA'"}],"mark":{"type":"text","align":"right","baseline":"middle","dx":18,"fontSize":19,"fontWeight":"bold","font":"Liberation Serif"},"encoding":{"x":{"datum":"IV","type":"ordinal","scale":{"type":"point","domain":["I","II","III","IV"],"padding":0.65},"axis":null},"y":{"datum":6.83},"text":{"field":"st"}}}
  ],
  "resolve":{"scale":{"x":"independent"}}
 },
 {"width":247,"height":209,
  "layer":[
   {"data":{"name":"vio"},"transform":[{"filter":"datum.p == 'KICH' && datum.s == 'I'"}],"mark":{"type":"area","orient":"horizontal","color":"#e01f26","stroke":"#6b1515","strokeWidth":0.8,"interpolate":"monotone"},
    "encoding":{"y":{"field":"y","type":"quantitative","scale":{"domain":[-0.24,9.74],"nice":false,"zero":false},"axis":{"values":[0,2,4,6,8],"tickCount":20,"format":"d","labelOverlap":false,"labelAngle":-90,"labelAlign":"center","labelBaseline":"bottom","labelFont":"Liberation Sans","labelFontSize":9,"labelColor":"#444","labelPadding":2,"tickSize":4,"tickColor":"#555","domainColor":"#555","offset":3,"title":null}},
     "x":{"field":"w","type":"quantitative","stack":"center","impute":null,"scale":{"domain":[-0.370,5.119],"nice":false,"zero":false},"axis":null},"detail":{"field":"s"}}},
   {"data":{"name":"vio"},"transform":[{"filter":"datum.p == 'KICH' && datum.s == 'II'"}],"mark":{"type":"area","orient":"horizontal","color":"#e01f26","stroke":"#6b1515","strokeWidth":0.8,"interpolate":"monotone"},
    "encoding":{"y":{"field":"y","type":"quantitative"},"x":{"field":"w","type":"quantitative","stack":"center","impute":null,"scale":{"domain":[-1.631,3.858],"nice":false,"zero":false},"axis":null},"detail":{"field":"s"}}},
   {"data":{"name":"vio"},"transform":[{"filter":"datum.p == 'KICH' && datum.s == 'III'"}],"mark":{"type":"area","orient":"horizontal","color":"#e01f26","stroke":"#6b1515","strokeWidth":0.8,"interpolate":"monotone"},
    "encoding":{"y":{"field":"y","type":"quantitative"},"x":{"field":"w","type":"quantitative","stack":"center","impute":null,"scale":{"domain":[-2.908,2.581],"nice":false,"zero":false},"axis":null},"detail":{"field":"s"}}},
   {"data":{"name":"vio"},"transform":[{"filter":"datum.p == 'KICH' && datum.s == 'IV'"}],"mark":{"type":"area","orient":"horizontal","color":"#e01f26","stroke":"#6b1515","strokeWidth":0.8,"interpolate":"monotone"},
    "encoding":{"y":{"field":"y","type":"quantitative"},"x":{"field":"w","type":"quantitative","stack":"center","impute":null,"scale":{"domain":[-4.159,1.330],"nice":false,"zero":false},"axis":null},"detail":{"field":"s"}}},
   {"data":{"name":"vsum"},"transform":[{"filter":"datum.p == 'KICH'"}],"mark":{"type":"rule","color":"#4a0a0a","strokeWidth":0.8},"encoding":{"x":{"field":"s","type":"ordinal","scale":{"type":"point","domain":["I","II","III","IV"],"padding":0.65},"axis":{"title":"Stage:","titleX":26,"titleY":8,"titleAlign":"right","titleBaseline":"top","titleFont":"Liberation Serif","titleFontSize":20,"titleFontWeight":"bold","titleColor":"black","labelAngle":0,"labelFont":"Liberation Serif","labelFontSize":20,"labelFontWeight":"bold","labelColor":"black","labelBaseline":"top","labelPadding":3,"tickSize":5,"tickColor":"#555","domain":false,"minExtent":48,"maxExtent":48}},"y":{"field":"mn","type":"quantitative"},"y2":{"field":"mx"}}},
   {"data":{"name":"vsum"},"transform":[{"filter":"datum.p == 'KICH'"}],"mark":{"type":"rule","color":"black","strokeWidth":5},"encoding":{"x":{"field":"s","type":"ordinal","scale":{"type":"point","domain":["I","II","III","IV"],"padding":0.65},"axis":null},"y":{"field":"q1","type":"quantitative"},"y2":{"field":"q3"}}},
   {"data":{"name":"vsum"},"transform":[{"filter":"datum.p == 'KICH'"}],"mark":{"type":"circle","color":"white","size":30,"opacity":1},"encoding":{"x":{"field":"s","type":"ordinal","scale":{"type":"point","domain":["I","II","III","IV"],"padding":0.65},"axis":null},"y":{"field":"md","type":"quantitative"}}},
   {"data":{"name":"vbase"},"transform":[{"filter":"datum.p == 'KICH'"}],"mark":{"type":"tick","orient":"horizontal","size":43,"thickness":2,"color":"#333"},"encoding":{"x":{"field":"s","type":"ordinal","scale":{"type":"point","domain":["I","II","III","IV"],"padding":0.65},"axis":null},"y":{"datum":0}}},
   {"data":{"name":"vlab"},"transform":[{"filter":"datum.p == 'KICH'"}],"mark":{"type":"text","align":"left","baseline":"middle","dx":-25,"fontSize":19,"fontWeight":"bold","font":"Liberation Serif"},"encoding":{"x":{"datum":"I","type":"ordinal","scale":{"type":"point","domain":["I","II","III","IV"],"padding":0.65},"axis":null},"y":{"datum":9.0},"text":{"field":"n"}}},
   {"data":{"name":"vlab"},"transform":[{"filter":"datum.p == 'KICH'"}],"mark":{"type":"text","align":"right","baseline":"middle","dx":16,"fontSize":19,"fontWeight":"bold","font":"Liberation Serif"},"encoding":{"x":{"datum":"IV","type":"ordinal","scale":{"type":"point","domain":["I","II","III","IV"],"padding":0.65},"axis":null},"y":{"datum":9.0},"text":{"field":"st"}}}
  ],
  "resolve":{"scale":{"x":"independent"}}
 }
]},
{"bounds":"flush","spacing":27,"hconcat":[
 {"width":238,"height":207,
  "layer":[
   {"data":{"name":"vio"},"transform":[{"filter":"datum.p == 'KIRC' && datum.s == 'I'"}],"mark":{"type":"area","orient":"horizontal","color":"#e01f26","stroke":"#6b1515","strokeWidth":0.8,"interpolate":"monotone"},
    "encoding":{"y":{"field":"y","type":"quantitative","scale":{"domain":[-0.19,7.26],"nice":false,"zero":false},"axis":{"values":[0,1,2,3,4,5,6,7],"tickCount":20,"format":"d","labelOverlap":false,"labelAngle":-90,"labelAlign":"center","labelBaseline":"bottom","labelFont":"Liberation Sans","labelFontSize":9,"labelColor":"#444","labelPadding":2,"tickSize":4,"tickColor":"#555","domainColor":"#555","offset":3,"title":["FAP expression","Log2（TPM+1）"],"titleFont":"Liberation Serif","titleFontSize":17,"titleFontWeight":"bold","titleColor":"black","titleLineHeight":21,"titlePadding":11}},
     "x":{"field":"w","type":"quantitative","stack":"center","impute":null,"scale":{"domain":[-0.300,4.989],"nice":false,"zero":false},"axis":null},"detail":{"field":"s"}}},
   {"data":{"name":"vio"},"transform":[{"filter":"datum.p == 'KIRC' && datum.s == 'II'"}],"mark":{"type":"area","orient":"horizontal","color":"#e01f26","stroke":"#6b1515","strokeWidth":0.8,"interpolate":"monotone"},
    "encoding":{"y":{"field":"y","type":"quantitative"},"x":{"field":"w","type":"quantitative","stack":"center","impute":null,"scale":{"domain":[-1.530,3.759],"nice":false,"zero":false},"axis":null},"detail":{"field":"s"}}},
   {"data":{"name":"vio"},"transform":[{"filter":"datum.p == 'KIRC' && datum.s == 'III'"}],"mark":{"type":"area","orient":"horizontal","color":"#e01f26","stroke":"#6b1515","strokeWidth":0.8,"interpolate":"monotone"},
    "encoding":{"y":{"field":"y","type":"quantitative"},"x":{"field":"w","type":"quantitative","stack":"center","impute":null,"scale":{"domain":[-2.759,2.530],"nice":false,"zero":false},"axis":null},"detail":{"field":"s"}}},
   {"data":{"name":"vio"},"transform":[{"filter":"datum.p == 'KIRC' && datum.s == 'IV'"}],"mark":{"type":"area","orient":"horizontal","color":"#e01f26","stroke":"#6b1515","strokeWidth":0.8,"interpolate":"monotone"},
    "encoding":{"y":{"field":"y","type":"quantitative"},"x":{"field":"w","type":"quantitative","stack":"center","impute":null,"scale":{"domain":[-3.989,1.300],"nice":false,"zero":false},"axis":null},"detail":{"field":"s"}}},
   {"data":{"name":"vsum"},"transform":[{"filter":"datum.p == 'KIRC'"}],"mark":{"type":"rule","color":"#4a0a0a","strokeWidth":0.8},"encoding":{"x":{"field":"s","type":"ordinal","scale":{"type":"point","domain":["I","II","III","IV"],"padding":0.65},"axis":{"title":"Stage:","titleX":22,"titleY":8,"titleAlign":"right","titleBaseline":"top","titleFont":"Liberation Serif","titleFontSize":20,"titleFontWeight":"bold","titleColor":"black","labelAngle":0,"labelFont":"Liberation Serif","labelFontSize":20,"labelFontWeight":"bold","labelColor":"black","labelBaseline":"top","labelPadding":3,"tickSize":5,"tickColor":"#555","domain":false,"minExtent":49,"maxExtent":49}},"y":{"field":"mn","type":"quantitative"},"y2":{"field":"mx"}}},
   {"data":{"name":"vsum"},"transform":[{"filter":"datum.p == 'KIRC'"}],"mark":{"type":"rule","color":"black","strokeWidth":5},"encoding":{"x":{"field":"s","type":"ordinal","scale":{"type":"point","domain":["I","II","III","IV"],"padding":0.65},"axis":null},"y":{"field":"q1","type":"quantitative"},"y2":{"field":"q3"}}},
   {"data":{"name":"vsum"},"transform":[{"filter":"datum.p == 'KIRC'"}],"mark":{"type":"circle","color":"white","size":30,"opacity":1},"encoding":{"x":{"field":"s","type":"ordinal","scale":{"type":"point","domain":["I","II","III","IV"],"padding":0.65},"axis":null},"y":{"field":"md","type":"quantitative"}}},
   {"data":{"name":"vbase"},"transform":[{"filter":"datum.p == 'KIRC'"}],"mark":{"type":"tick","orient":"horizontal","size":44,"thickness":2,"color":"#333"},"encoding":{"x":{"field":"s","type":"ordinal","scale":{"type":"point","domain":["I","II","III","IV"],"padding":0.65},"axis":null},"y":{"datum":0}}},
   {"data":{"name":"vlab"},"transform":[{"filter":"datum.p == 'KIRC'"}],"mark":{"type":"text","align":"left","baseline":"middle","dx":-28,"fontSize":19,"fontWeight":"bold","font":"Liberation Serif"},"encoding":{"x":{"datum":"I","type":"ordinal","scale":{"type":"point","domain":["I","II","III","IV"],"padding":0.65},"axis":null},"y":{"datum":6.74},"text":{"field":"n"}}},
   {"data":{"name":"vlab"},"transform":[{"filter":"datum.p == 'KIRC'"}],"mark":{"type":"text","align":"right","baseline":"middle","dx":26,"fontSize":19,"fontWeight":"bold","font":"Liberation Serif"},"encoding":{"x":{"datum":"IV","type":"ordinal","scale":{"type":"point","domain":["I","II","III","IV"],"padding":0.65},"axis":null},"y":{"datum":6.74},"text":{"field":"st"}}}
  ],
  "resolve":{"scale":{"x":"independent"}}
 },
 {"width":250,"height":207,
  "layer":[
   {"data":{"name":"vio"},"transform":[{"filter":"datum.p == 'KIRP' && datum.s == 'I'"}],"mark":{"type":"area","orient":"horizontal","color":"#e01f26","stroke":"#6b1515","strokeWidth":0.8,"interpolate":"monotone"},
    "encoding":{"y":{"field":"y","type":"quantitative","scale":{"domain":[-0.13,5.05],"nice":false,"zero":false},"axis":{"values":[0,1,2,3,4,5],"tickCount":20,"format":"d","labelOverlap":false,"labelAngle":-90,"labelAlign":"center","labelBaseline":"bottom","labelFont":"Liberation Sans","labelFontSize":9,"labelColor":"#444","labelPadding":2,"tickSize":4,"tickColor":"#555","domainColor":"#555","offset":3,"title":null}},
     "x":{"field":"w","type":"quantitative","stack":"center","impute":null,"scale":{"domain":[-0.369,5.313],"nice":false,"zero":false},"axis":null},"detail":{"field":"s"}}},
   {"data":{"name":"vio"},"transform":[{"filter":"datum.p == 'KIRP' && datum.s == 'II'"}],"mark":{"type":"area","orient":"horizontal","color":"#e01f26","stroke":"#6b1515","strokeWidth":0.8,"interpolate":"monotone"},
    "encoding":{"y":{"field":"y","type":"quantitative"},"x":{"field":"w","type":"quantitative","stack":"center","impute":null,"scale":{"domain":[-1.705,3.977],"nice":false,"zero":false},"axis":null},"detail":{"field":"s"}}},
   {"data":{"name":"vio"},"transform":[{"filter":"datum.p == 'KIRP' && datum.s == 'III'"}],"mark":{"type":"area","orient":"horizontal","color":"#e01f26","stroke":"#6b1515","strokeWidth":0.8,"interpolate":"monotone"},
    "encoding":{"y":{"field":"y","type":"quantitative"},"x":{"field":"w","type":"quantitative","stack":"center","impute":null,"scale":{"domain":[-3.027,2.655],"nice":false,"zero":false},"axis":null},"detail":{"field":"s"}}},
   {"data":{"name":"vio"},"transform":[{"filter":"datum.p == 'KIRP' && datum.s == 'IV'"}],"mark":{"type":"area","orient":"horizontal","color":"#e01f26","stroke":"#6b1515","strokeWidth":0.8,"interpolate":"monotone"},
    "encoding":{"y":{"field":"y","type":"quantitative"},"x":{"field":"w","type":"quantitative","stack":"center","impute":null,"scale":{"domain":[-4.323,1.359],"nice":false,"zero":false},"axis":null},"detail":{"field":"s"}}},
   {"data":{"name":"vsum"},"transform":[{"filter":"datum.p == 'KIRP'"}],"mark":{"type":"rule","color":"#4a0a0a","strokeWidth":0.8},"encoding":{"x":{"field":"s","type":"ordinal","scale":{"type":"point","domain":["I","II","III","IV"],"padding":0.65},"axis":{"title":"Stage:","titleX":28,"titleY":8,"titleAlign":"right","titleBaseline":"top","titleFont":"Liberation Serif","titleFontSize":20,"titleFontWeight":"bold","titleColor":"black","labelAngle":0,"labelFont":"Liberation Serif","labelFontSize":20,"labelFontWeight":"bold","labelColor":"black","labelBaseline":"top","labelPadding":3,"tickSize":5,"tickColor":"#555","domain":false,"minExtent":49,"maxExtent":49}},"y":{"field":"mn","type":"quantitative"},"y2":{"field":"mx"}}},
   {"data":{"name":"vsum"},"transform":[{"filter":"datum.p == 'KIRP'"}],"mark":{"type":"rule","color":"black","strokeWidth":5},"encoding":{"x":{"field":"s","type":"ordinal","scale":{"type":"point","domain":["I","II","III","IV"],"padding":0.65},"axis":null},"y":{"field":"q1","type":"quantitative"},"y2":{"field":"q3"}}},
   {"data":{"name":"vsum"},"transform":[{"filter":"datum.p == 'KIRP'"}],"mark":{"type":"circle","color":"white","size":30,"opacity":1},"encoding":{"x":{"field":"s","type":"ordinal","scale":{"type":"point","domain":["I","II","III","IV"],"padding":0.65},"axis":null},"y":{"field":"md","type":"quantitative"}}},
   {"data":{"name":"vbase"},"transform":[{"filter":"datum.p == 'KIRP'"}],"mark":{"type":"tick","orient":"horizontal","size":44,"thickness":2,"color":"#333"},"encoding":{"x":{"field":"s","type":"ordinal","scale":{"type":"point","domain":["I","II","III","IV"],"padding":0.65},"axis":null},"y":{"datum":0}}},
   {"data":{"name":"vlab"},"transform":[{"filter":"datum.p == 'KIRP'"}],"mark":{"type":"text","align":"left","baseline":"middle","dx":-30,"fontSize":19,"fontWeight":"bold","font":"Liberation Serif"},"encoding":{"x":{"datum":"I","type":"ordinal","scale":{"type":"point","domain":["I","II","III","IV"],"padding":0.65},"axis":null},"y":{"datum":4.69},"text":{"field":"n"}}},
   {"data":{"name":"vlab"},"transform":[{"filter":"datum.p == 'KIRP'"}],"mark":{"type":"text","align":"right","baseline":"middle","dx":25,"fontSize":19,"fontWeight":"bold","font":"Liberation Serif"},"encoding":{"x":{"datum":"IV","type":"ordinal","scale":{"type":"point","domain":["I","II","III","IV"],"padding":0.65},"axis":null},"y":{"datum":4.69},"text":{"field":"st"}}}
  ],
  "resolve":{"scale":{"x":"independent"}}
 },
 {"width":234,"height":207,
  "layer":[
   {"data":{"name":"vio"},"transform":[{"filter":"datum.p == 'OV' && datum.s == 'I'"}],"mark":{"type":"area","orient":"horizontal","color":"#e01f26","stroke":"#6b1515","strokeWidth":0.8,"interpolate":"monotone"},
    "encoding":{"y":{"field":"y","type":"quantitative","scale":{"domain":[-0.23,6.78],"nice":false,"zero":false},"axis":{"values":[0,1,2,3,4,5,6],"tickCount":20,"format":"d","labelOverlap":false,"labelAngle":-90,"labelAlign":"center","labelBaseline":"bottom","labelFont":"Liberation Sans","labelFontSize":9,"labelColor":"#444","labelPadding":2,"tickSize":4,"tickColor":"#555","domainColor":"#555","offset":3,"title":null}},
     "x":{"field":"w","type":"quantitative","stack":"center","impute":null,"scale":{"domain":[-0.276,3.498],"nice":false,"zero":false},"axis":null},"detail":{"field":"s"}}},
   {"data":{"name":"vio"},"transform":[{"filter":"datum.p == 'OV' && datum.s == 'II'"}],"mark":{"type":"area","orient":"horizontal","color":"#e01f26","stroke":"#6b1515","strokeWidth":0.8,"interpolate":"monotone"},
    "encoding":{"y":{"field":"y","type":"quantitative"},"x":{"field":"w","type":"quantitative","stack":"center","impute":null,"scale":{"domain":[-1.412,2.362],"nice":false,"zero":false},"axis":null},"detail":{"field":"s"}}},
   {"data":{"name":"vio"},"transform":[{"filter":"datum.p == 'OV' && datum.s == 'III'"}],"mark":{"type":"area","orient":"horizontal","color":"#e01f26","stroke":"#6b1515","strokeWidth":0.8,"interpolate":"monotone"},
    "encoding":{"y":{"field":"y","type":"quantitative"},"x":{"field":"w","type":"quantitative","stack":"center","impute":null,"scale":{"domain":[-2.538,1.236],"nice":false,"zero":false},"axis":null},"detail":{"field":"s"}}},
   {"data":{"name":"vsum"},"transform":[{"filter":"datum.p == 'OV'"}],"mark":{"type":"rule","color":"#4a0a0a","strokeWidth":0.8},"encoding":{"x":{"field":"s","type":"ordinal","scale":{"type":"point","domain":["I","II","III"],"padding":0.64},"axis":{"title":"Stage:","titleX":21,"titleY":8,"titleAlign":"right","titleBaseline":"top","titleFont":"Liberation Serif","titleFontSize":20,"titleFontWeight":"bold","titleColor":"black","labelAngle":0,"labelFont":"Liberation Serif","labelFontSize":20,"labelFontWeight":"bold","labelColor":"black","labelBaseline":"top","labelPadding":3,"tickSize":5,"tickColor":"#555","domain":false,"minExtent":49,"maxExtent":49}},"y":{"field":"mn","type":"quantitative"},"y2":{"field":"mx"}}},
   {"data":{"name":"vsum"},"transform":[{"filter":"datum.p == 'OV'"}],"mark":{"type":"rule","color":"black","strokeWidth":5},"encoding":{"x":{"field":"s","type":"ordinal","scale":{"type":"point","domain":["I","II","III"],"padding":0.64},"axis":null},"y":{"field":"q1","type":"quantitative"},"y2":{"field":"q3"}}},
   {"data":{"name":"vsum"},"transform":[{"filter":"datum.p == 'OV'"}],"mark":{"type":"circle","color":"white","size":30,"opacity":1},"encoding":{"x":{"field":"s","type":"ordinal","scale":{"type":"point","domain":["I","II","III"],"padding":0.64},"axis":null},"y":{"field":"md","type":"quantitative"}}},
   {"data":{"name":"vbase"},"transform":[{"filter":"datum.p == 'OV'"}],"mark":{"type":"tick","orient":"horizontal","size":56,"thickness":2,"color":"#333"},"encoding":{"x":{"field":"s","type":"ordinal","scale":{"type":"point","domain":["I","II","III"],"padding":0.64},"axis":null},"y":{"datum":0}}},
   {"data":{"name":"vlab"},"transform":[{"filter":"datum.p == 'OV'"}],"mark":{"type":"text","align":"left","baseline":"middle","dx":-41,"fontSize":19,"fontWeight":"bold","font":"Liberation Serif"},"encoding":{"x":{"datum":"I","type":"ordinal","scale":{"type":"point","domain":["I","II","III"],"padding":0.64},"axis":null},"y":{"datum":6.34},"text":{"field":"n"}}},
   {"data":{"name":"vlab"},"transform":[{"filter":"datum.p == 'OV'"}],"mark":{"type":"text","align":"right","baseline":"middle","dx":41,"fontSize":19,"fontWeight":"bold","font":"Liberation Serif"},"encoding":{"x":{"datum":"III","type":"ordinal","scale":{"type":"point","domain":["I","II","III"],"padding":0.64},"axis":null},"y":{"datum":6.34},"text":{"field":"st"}}}
  ],
  "resolve":{"scale":{"x":"independent"}}
 },
 {"width":236,"height":207,
  "layer":[
   {"data":{"name":"vio"},"transform":[{"filter":"datum.p == 'STAD' && datum.s == 'I'"}],"mark":{"type":"area","orient":"horizontal","color":"#e01f26","stroke":"#6b1515","strokeWidth":0.8,"interpolate":"monotone"},
    "encoding":{"y":{"field":"y","type":"quantitative","scale":{"domain":[-0.1,7.98],"nice":false,"zero":false},"axis":{"values":[0,2,4,6],"tickCount":20,"format":"d","labelOverlap":false,"labelAngle":-90,"labelAlign":"center","labelBaseline":"bottom","labelFont":"Liberation Sans","labelFontSize":9,"labelColor":"#444","labelPadding":2,"tickSize":4,"tickColor":"#555","domainColor":"#555","offset":3,"title":null}},
     "x":{"field":"w","type":"quantitative","stack":"center","impute":null,"scale":{"domain":[-0.293,4.952],"nice":false,"zero":false},"axis":null},"detail":{"field":"s"}}},
   {"data":{"name":"vio"},"transform":[{"filter":"datum.p == 'STAD' && datum.s == 'II'"}],"mark":{"type":"area","orient":"horizontal","color":"#e01f26","stroke":"#6b1515","strokeWidth":0.8,"interpolate":"monotone"},
    "encoding":{"y":{"field":"y","type":"quantitative"},"x":{"field":"w","type":"quantitative","stack":"center","impute":null,"scale":{"domain":[-1.512,3.732],"nice":false,"zero":false},"axis":null},"detail":{"field":"s"}}},
   {"data":{"name":"vio"},"transform":[{"filter":"datum.p == 'STAD' && datum.s == 'III'"}],"mark":{"type":"area","orient":"horizontal","color":"#e01f26","stroke":"#6b1515","strokeWidth":0.8,"interpolate":"monotone"},
    "encoding":{"y":{"field":"y","type":"quantitative"},"x":{"field":"w","type":"quantitative","stack":"center","impute":null,"scale":{"domain":[-2.732,2.512],"nice":false,"zero":false},"axis":null},"detail":{"field":"s"}}},
   {"data":{"name":"vio"},"transform":[{"filter":"datum.p == 'STAD' && datum.s == 'IV'"}],"mark":{"type":"area","orient":"horizontal","color":"#e01f26","stroke":"#6b1515","strokeWidth":0.8,"interpolate":"monotone"},
    "encoding":{"y":{"field":"y","type":"quantitative"},"x":{"field":"w","type":"quantitative","stack":"center","impute":null,"scale":{"domain":[-3.952,1.293],"nice":false,"zero":false},"axis":null},"detail":{"field":"s"}}},
   {"data":{"name":"vsum"},"transform":[{"filter":"datum.p == 'STAD'"}],"mark":{"type":"rule","color":"#4a0a0a","strokeWidth":0.8},"encoding":{"x":{"field":"s","type":"ordinal","scale":{"type":"point","domain":["I","II","III","IV"],"padding":0.65},"axis":{"title":"Stage:","titleX":25,"titleY":8,"titleAlign":"right","titleBaseline":"top","titleFont":"Liberation Serif","titleFontSize":20,"titleFontWeight":"bold","titleColor":"black","labelAngle":0,"labelFont":"Liberation Serif","labelFontSize":20,"labelFontWeight":"bold","labelColor":"black","labelBaseline":"top","labelPadding":3,"tickSize":5,"tickColor":"#555","domain":false,"minExtent":49,"maxExtent":49}},"y":{"field":"mn","type":"quantitative"},"y2":{"field":"mx"}}},
   {"data":{"name":"vsum"},"transform":[{"filter":"datum.p == 'STAD'"}],"mark":{"type":"rule","color":"black","strokeWidth":5},"encoding":{"x":{"field":"s","type":"ordinal","scale":{"type":"point","domain":["I","II","III","IV"],"padding":0.65},"axis":null},"y":{"field":"q1","type":"quantitative"},"y2":{"field":"q3"}}},
   {"data":{"name":"vsum"},"transform":[{"filter":"datum.p == 'STAD'"}],"mark":{"type":"circle","color":"white","size":30,"opacity":1},"encoding":{"x":{"field":"s","type":"ordinal","scale":{"type":"point","domain":["I","II","III","IV"],"padding":0.65},"axis":null},"y":{"field":"md","type":"quantitative"}}},
   {"data":{"name":"vbase"},"transform":[{"filter":"datum.p == 'STAD'"}],"mark":{"type":"tick","orient":"horizontal","size":44,"thickness":2,"color":"#333"},"encoding":{"x":{"field":"s","type":"ordinal","scale":{"type":"point","domain":["I","II","III","IV"],"padding":0.65},"axis":null},"y":{"datum":0}}},
   {"data":{"name":"vlab"},"transform":[{"filter":"datum.p == 'STAD'"}],"mark":{"type":"text","align":"left","baseline":"middle","dx":-31,"fontSize":19,"fontWeight":"bold","font":"Liberation Serif"},"encoding":{"x":{"datum":"I","type":"ordinal","scale":{"type":"point","domain":["I","II","III","IV"],"padding":0.65},"axis":null},"y":{"datum":7.48},"text":{"field":"n"}}},
   {"data":{"name":"vlab"},"transform":[{"filter":"datum.p == 'STAD'"}],"mark":{"type":"text","align":"right","baseline":"middle","dx":22,"fontSize":19,"fontWeight":"bold","font":"Liberation Serif"},"encoding":{"x":{"datum":"IV","type":"ordinal","scale":{"type":"point","domain":["I","II","III","IV"],"padding":0.65},"axis":null},"y":{"datum":7.48},"text":{"field":"st"}}}
  ],
  "resolve":{"scale":{"x":"independent"}}
 }
]},
{"bounds":"flush","spacing":10,"title":{"text":"(c)","dx":-73,"offset":-14},"hconcat":[
 {"width":25,"height":1,"data":{"values":[{}]},"mark":{"type":"point","opacity":0},"encoding":{},"view":{"stroke":null}},
 {"bounds":"flush","spacing":58,"hconcat":[
  {"width":197,"height":185,"view":{"stroke":null},
   "title":{"text":"CPTAC Dataset","dx":-35,"offset":27},
   "encoding":{"x":{"field":"g","type":"nominal","scale":{"type":"point","domain":["Normal","Tumor"],"padding":0.393,"align":0.648},"axis":{"title":null,"labelAngle":0,"labelExpr":"datum.value == 'Normal' ? ['Normal', 'N=100'] : ['Tumor', 'N=97']","labelColor":{"condition":{"test":"datum.value == 'Normal'","value":"#3c4ea5"},"value":"#ee3424"},"labelFont":"Liberation Serif","labelFontWeight":"bold","labelFontSize":13.5,"labelLineHeight":17,"labelBaseline":"top","labelPadding":5,"ticks":false,"domainColor":"#777"}}},
   "layer":[
    {"data":{"name":"box"},"transform":[{"filter":"datum.p == 'COAD'"}],"mark":{"type":"rule","strokeDash":[2,2],"color":"#444","strokeWidth":1},
     "encoding":{"y":{"field":"lo","type":"quantitative","scale":{"domain":[-3,4],"nice":false,"zero":false},"axis":{"values":[-3,-2,-1,0,1,2,3],"tickCount":20,"labelOverlap":false,"labelExpr":"'' + datum.value","labelFont":"Liberation Serif","labelFontSize":19,"labelColor":"black","labelPadding":3,"tickSize":5,"tickColor":"#555","domainColor":"#777","title":["Protein expression","of FAP"],"titleFont":"Liberation Serif","titleFontSize":17,"titleFontWeight":"bold","titleColor":"black","titleLineHeight":19,"titlePadding":26}},"y2":{"field":"hi"}}},
    {"data":{"name":"box"},"transform":[{"filter":"datum.p == 'COAD'"}],"mark":{"type":"bar","size":55},
     "encoding":{"y":{"field":"q1","type":"quantitative"},"y2":{"field":"q3"},"color":{"field":"g","type":"nominal","scale":{"domain":["Normal","Tumor"],"range":["#5664b0","#ee3424"]},"legend":null}}},
    {"data":{"name":"box"},"transform":[{"filter":"datum.p == 'COAD'"}],"mark":{"type":"tick","orient":"horizontal","size":55,"thickness":2,"color":"black"},"encoding":{"y":{"field":"md","type":"quantitative"}}},
    {"data":{"name":"box"},"transform":[{"filter":"datum.p == 'COAD'"}],"mark":{"type":"tick","orient":"horizontal","size":28,"thickness":1.5,"color":"#333"},"encoding":{"y":{"field":"lo","type":"quantitative"}}},
    {"data":{"name":"box"},"transform":[{"filter":"datum.p == 'COAD'"}],"mark":{"type":"tick","orient":"horizontal","size":28,"thickness":1.5,"color":"#333"},"encoding":{"y":{"field":"hi","type":"quantitative"}}},
    {"data":{"name":"blab"},"transform":[{"filter":"datum.p == 'COAD'"}],"mark":{"type":"text","align":"left","baseline":"middle","dx":-35,"fontSize":16,"fontWeight":"bold","font":"Liberation Serif"},"encoding":{"x":{"datum":"Normal","type":"nominal"},"y":{"datum":3.5},"text":{"field":"t"}}}
   ]
  },
  {"width":202,"height":185,"view":{"stroke":null},
   "encoding":{"x":{"field":"g","type":"nominal","scale":{"type":"point","domain":["Normal","Tumor"],"padding":0.393,"align":0.648},"axis":{"title":null,"labelAngle":0,"labelExpr":"datum.value == 'Normal' ? ['Normal', 'N=84'] : ['Tumor', 'N=110']","labelColor":{"condition":{"test":"datum.value == 'Normal'","value":"#3c4ea5"},"value":"#ee3424"},"labelFont":"Liberation Serif","labelFontWeight":"bold","labelFontSize":13.5,"labelLineHeight":17,"labelBaseline":"top","labelPadding":5,"ticks":false,"domainColor":"#777"}}},
   "layer":[
    {"data":{"name":"box"},"transform":[{"filter":"datum.p == 'KIRC'"}],"mark":{"type":"rule","strokeDash":[2,2],"color":"#444","strokeWidth":1},
     "encoding":{"y":{"field":"lo","type":"quantitative","scale":{"domain":[-3,3],"nice":false,"zero":false},"axis":{"values":[-3,-2,-1,0,1,2,3],"tickCount":20,"labelOverlap":false,"labelExpr":"'' + datum.value","labelFont":"Liberation Serif","labelFontSize":19,"labelColor":"black","labelPadding":3,"tickSize":5,"tickColor":"#555","domainColor":"#777","title":null}},"y2":{"field":"hi"}}},
    {"data":{"name":"box"},"transform":[{"filter":"datum.p == 'KIRC'"}],"mark":{"type":"bar","size":55},
     "encoding":{"y":{"field":"q1","type":"quantitative"},"y2":{"field":"q3"},"color":{"field":"g","type":"nominal","scale":{"domain":["Normal","Tumor"],"range":["#5664b0","#ee3424"]},"legend":null}}},
    {"data":{"name":"box"},"transform":[{"filter":"datum.p == 'KIRC'"}],"mark":{"type":"tick","orient":"horizontal","size":55,"thickness":2,"color":"black"},"encoding":{"y":{"field":"md","type":"quantitative"}}},
    {"data":{"name":"box"},"transform":[{"filter":"datum.p == 'KIRC'"}],"mark":{"type":"tick","orient":"horizontal","size":28,"thickness":1.5,"color":"#333"},"encoding":{"y":{"field":"lo","type":"quantitative"}}},
    {"data":{"name":"box"},"transform":[{"filter":"datum.p == 'KIRC'"}],"mark":{"type":"tick","orient":"horizontal","size":28,"thickness":1.5,"color":"#333"},"encoding":{"y":{"field":"hi","type":"quantitative"}}},
    {"data":{"name":"blab"},"transform":[{"filter":"datum.p == 'KIRC'"}],"mark":{"type":"text","align":"left","baseline":"middle","dx":-36,"fontSize":16,"fontWeight":"bold","font":"Liberation Serif"},"encoding":{"x":{"datum":"Normal","type":"nominal"},"y":{"datum":2.5},"text":{"field":"t"}}}
   ]
  },
  {"width":200,"height":185,"view":{"stroke":null},
   "encoding":{"x":{"field":"g","type":"nominal","scale":{"type":"point","domain":["Normal","Tumor"],"padding":0.393,"align":0.648},"axis":{"title":null,"labelAngle":0,"labelExpr":"datum.value == 'Normal' ? ['Normal', 'N=111'] : ['Tumor', 'N=111']","labelColor":{"condition":{"test":"datum.value == 'Normal'","value":"#3c4ea5"},"value":"#ee3424"},"labelFont":"Liberation Serif","labelFontWeight":"bold","labelFontSize":13.5,"labelLineHeight":17,"labelBaseline":"top","labelPadding":5,"ticks":false,"domainColor":"#777"}}},
   "layer":[
    {"data":{"name":"box"},"transform":[{"filter":"datum.p == 'LUAD'"}],"mark":{"type":"rule","strokeDash":[2,2],"color":"#444","strokeWidth":1},
     "encoding":{"y":{"field":"lo","type":"quantitative","scale":{"domain":[-3,4],"nice":false,"zero":false},"axis":{"values":[-3,-2,-1,0,1,2,3,4],"tickCount":20,"labelOverlap":false,"labelExpr":"'' + datum.value","labelFont":"Liberation Serif","labelFontSize":19,"labelColor":"black","labelPadding":3,"tickSize":5,"tickColor":"#555","domainColor":"#777","title":null}},"y2":{"field":"hi"}}},
    {"data":{"name":"box"},"transform":[{"filter":"datum.p == 'LUAD'"}],"mark":{"type":"bar","size":55},
     "encoding":{"y":{"field":"q1","type":"quantitative"},"y2":{"field":"q3"},"color":{"field":"g","type":"nominal","scale":{"domain":["Normal","Tumor"],"range":["#5664b0","#ee3424"]},"legend":null}}},
    {"data":{"name":"box"},"transform":[{"filter":"datum.p == 'LUAD'"}],"mark":{"type":"tick","orient":"horizontal","size":55,"thickness":2,"color":"black"},"encoding":{"y":{"field":"md","type":"quantitative"}}},
    {"data":{"name":"box"},"transform":[{"filter":"datum.p == 'LUAD'"}],"mark":{"type":"tick","orient":"horizontal","size":28,"thickness":1.5,"color":"#333"},"encoding":{"y":{"field":"lo","type":"quantitative"}}},
    {"data":{"name":"box"},"transform":[{"filter":"datum.p == 'LUAD'"}],"mark":{"type":"tick","orient":"horizontal","size":28,"thickness":1.5,"color":"#333"},"encoding":{"y":{"field":"hi","type":"quantitative"}}},
    {"data":{"name":"blab"},"transform":[{"filter":"datum.p == 'LUAD'"}],"mark":{"type":"text","align":"left","baseline":"middle","dx":-35,"fontSize":16,"fontWeight":"bold","font":"Liberation Serif"},"encoding":{"x":{"datum":"Normal","type":"nominal"},"y":{"datum":3.45},"text":{"field":"t"}}}
   ]
  },
  {"width":196,"height":185,"view":{"stroke":null},
   "encoding":{"x":{"field":"g","type":"nominal","scale":{"type":"point","domain":["Normal","Tumor"],"padding":0.393,"align":0.648},"axis":{"title":null,"labelAngle":0,"labelExpr":"datum.value == 'Normal' ? ['Normal', 'N=18'] : ['Tumor', 'N=125']","labelColor":{"condition":{"test":"datum.value == 'Normal'","value":"#3c4ea5"},"value":"#ee3424"},"labelFont":"Liberation Serif","labelFontWeight":"bold","labelFontSize":13.5,"labelLineHeight":17,"labelBaseline":"top","labelPadding":5,"ticks":false,"domainColor":"#777"}}},
   "layer":[
    {"data":{"name":"box"},"transform":[{"filter":"datum.p == 'BRCA'"}],"mark":{"type":"rule","strokeDash":[2,2],"color":"#444","strokeWidth":1},
     "encoding":{"y":{"field":"lo","type":"quantitative","scale":{"domain":[-3,3],"nice":false,"zero":false},"axis":{"values":[-3,-2,-1,0,1,2,3],"tickCount":20,"labelOverlap":false,"labelExpr":"'' + datum.value","labelFont":"Liberation Serif","labelFontSize":19,"labelColor":"black","labelPadding":3,"tickSize":5,"tickColor":"#555","domainColor":"#777","title":null}},"y2":{"field":"hi"}}},
    {"data":{"name":"box"},"transform":[{"filter":"datum.p == 'BRCA'"}],"mark":{"type":"bar","size":55},
     "encoding":{"y":{"field":"q1","type":"quantitative"},"y2":{"field":"q3"},"color":{"field":"g","type":"nominal","scale":{"domain":["Normal","Tumor"],"range":["#5664b0","#ee3424"]},"legend":null}}},
    {"data":{"name":"box"},"transform":[{"filter":"datum.p == 'BRCA'"}],"mark":{"type":"tick","orient":"horizontal","size":55,"thickness":2,"color":"black"},"encoding":{"y":{"field":"md","type":"quantitative"}}},
    {"data":{"name":"box"},"transform":[{"filter":"datum.p == 'BRCA'"}],"mark":{"type":"tick","orient":"horizontal","size":28,"thickness":1.5,"color":"#333"},"encoding":{"y":{"field":"lo","type":"quantitative"}}},
    {"data":{"name":"box"},"transform":[{"filter":"datum.p == 'BRCA'"}],"mark":{"type":"tick","orient":"horizontal","size":28,"thickness":1.5,"color":"#333"},"encoding":{"y":{"field":"hi","type":"quantitative"}}},
    {"data":{"name":"blab"},"transform":[{"filter":"datum.p == 'BRCA'"}],"mark":{"type":"text","align":"left","baseline":"middle","dx":-34,"fontSize":16,"fontWeight":"bold","font":"Liberation Serif"},"encoding":{"x":{"datum":"Normal","type":"nominal"},"y":{"datum":2.45},"text":{"field":"t"}}}
   ]
  }
 ]}
]}
]
}
